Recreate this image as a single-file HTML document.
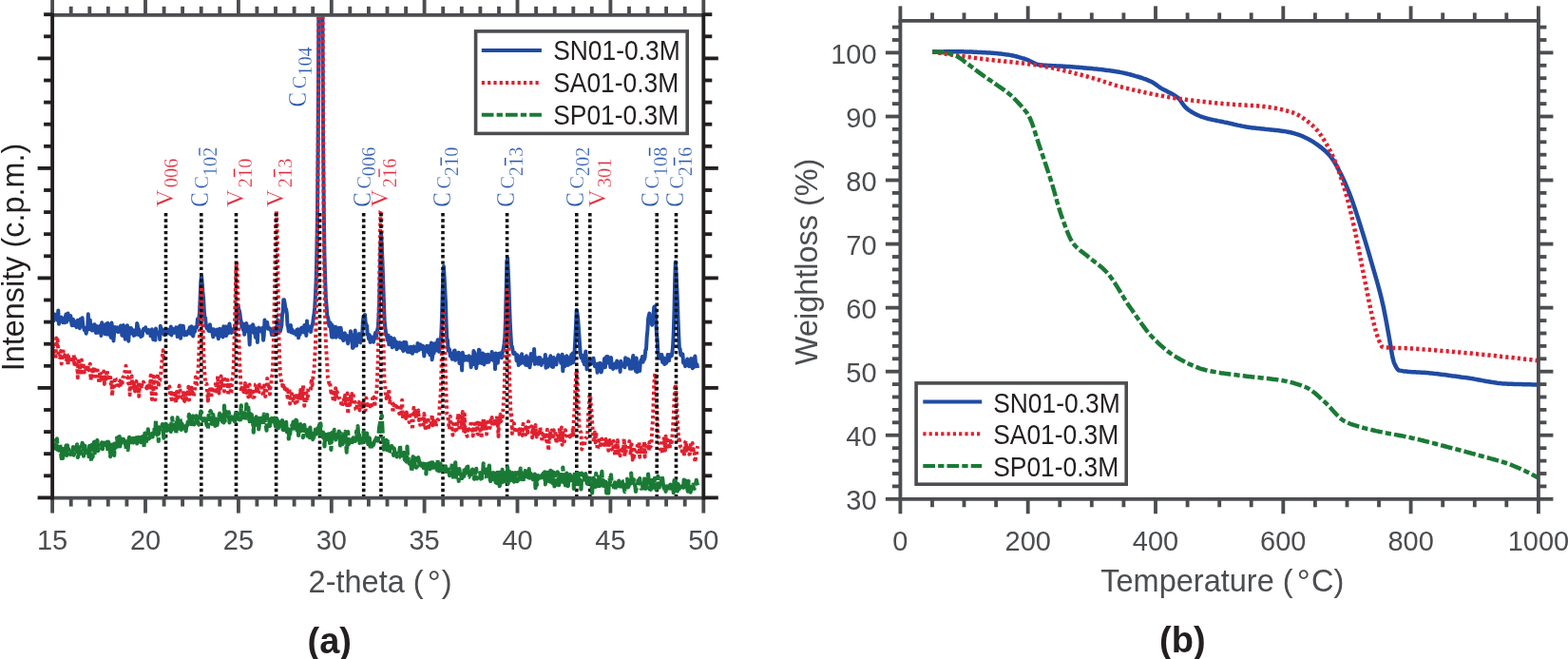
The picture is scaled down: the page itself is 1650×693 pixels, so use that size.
<!DOCTYPE html>
<html><head><meta charset="utf-8"><title>XRD and TGA</title>
<style>html,body{margin:0;padding:0;background:#fff;width:1650px;height:693px;overflow:hidden}svg{display:block}</style>
</head><body>
<svg width="1650" height="693" viewBox="0 0 1650 693">
<rect width="1650" height="693" fill="#fff"/>
<defs><clipPath id="ca"><rect x="55.1" y="17.6" width="685.2" height="507.8"/></clipPath><clipPath id="cb"><rect x="947.4" y="21.9" width="671.2" height="503"/></clipPath></defs>
<polyline points="55.1,331.9 55.8,337.6 56.5,337.3 57.2,330.4 57.8,331.6 58.5,330.9 59.2,335.6 59.9,333.3 60.6,336.9 61.3,326.5 62,340.7 62.6,334.2 63.3,337.6 64,334.5 64.7,333.7 65.4,337.4 66.1,339.1 66.7,335.1 67.4,335.6 68.1,339.2 68.8,333 69.5,330.6 70.2,338.6 70.9,334.5 71.5,329.6 72.2,334.3 72.9,335.9 73.6,333.1 74.3,332.1 75,338.5 75.7,342.2 76.3,337.8 77,335.9 77.7,340.7 78.4,342.2 79.1,338.2 79.8,341.9 80.5,344.1 81.1,339.1 81.8,336.8 82.5,341.7 83.2,341.5 83.9,345.2 84.6,335.6 85.2,338.3 85.9,337.8 86.6,334.3 87.3,342.1 88,344 88.7,346.9 89.4,347.9 90,345.8 90.7,350.8 91.4,344.5 92.1,347 92.8,330.3 93.5,346 94.2,346.1 94.8,336.6 95.5,345.5 96.2,343.2 96.9,347.6 97.6,342.7 98.3,344.6 99,341.2 99.6,341.3 100.3,347.5 101,350 101.7,347.2 102.4,343.1 103.1,349.8 103.7,347.9 104.4,344.8 105.1,348.2 105.8,342.3 106.5,353 107.2,339.3 107.9,349.4 108.5,347.8 109.2,345.6 109.9,341.9 110.6,351.2 111.3,341 112,348.5 112.7,351.6 113.3,339.8 114,345.1 114.7,341.1 115.4,347.5 116.1,352.8 116.8,354.9 117.5,339.4 118.1,344.4 118.8,349.8 119.5,358.4 120.2,348.8 120.9,344.1 121.6,348.4 122.2,347.2 122.9,346.5 123.6,344.4 124.3,349.1 125,348.8 125.7,347.2 126.4,346.8 127,342.5 127.7,345.8 128.4,352.8 129.1,347.1 129.8,342.1 130.5,353.4 131.2,350.2 131.8,356.7 132.5,348.3 133.2,346.2 133.9,342.2 134.6,353.6 135.3,358.7 136,344.9 136.6,345.6 137.3,350.8 138,345 138.7,347.3 139.4,347 140.1,349.2 140.8,352.9 141.4,348.6 142.1,352.3 142.8,346.8 143.5,349.9 144.2,339.9 144.9,342.7 145.5,351.9 146.2,346.3 146.9,351.1 147.6,350.9 148.3,354.1 149,352.1 149.7,352.9 150.3,348.3 151,346 151.7,345.8 152.4,346.8 153.1,344.2 153.8,346.6 154.5,348.5 155.1,349.9 155.8,347.5 156.5,347.1 157.2,348.6 157.9,349.8 158.6,353.3 159.3,351.3 159.9,346.3 160.6,352.4 161.3,357.1 162,352 162.7,356.4 163.4,357.6 164,345.6 164.7,350.5 165.4,350.8 166.1,351.2 166.8,351.1 167.5,349.7 168.2,357.1 168.8,342.8 169.5,348.2 170.2,345.8 170.9,349.4 171.6,347 172.3,351.4 173,352.2 173.6,350.1 174.3,350.1 175,349.2 175.7,347 176.4,348.2 177.1,346.8 177.8,350.4 178.4,348.9 179.1,351.2 179.8,343.4 180.5,352.4 181.2,345.7 181.9,345.8 182.5,348 183.2,346.5 183.9,349.9 184.6,346.4 185.3,344.4 186,345.3 186.7,354 187.3,348.9 188,344 188.7,348.7 189.4,342.4 190.1,355.8 190.8,342.5 191.5,350.5 192.1,350.7 192.8,342.7 193.5,349.7 194.2,352.4 194.9,350.3 195.6,349.4 196.3,352.1 196.9,348.9 197.6,349.5 198.3,347.6 199,350.5 199.7,344.3 200.4,350.9 201,345.7 201.7,343.4 202.4,348.7 203.1,353.5 203.8,350.4 204.5,344.6 205.2,348.5 205.8,343.9 206.5,344.4 207.2,344.2 207.9,335.4 208.6,341.4 209.3,334.9 210,328.6 210.6,313.3 211.3,296.6 212,290 212.7,297.1 213.4,306.7 214.1,313.6 214.8,326.6 215.4,333.4 216.1,334.1 216.8,342.4 217.5,344.9 218.2,343 218.9,346.3 219.5,347.9 220.2,348.1 220.9,341.2 221.6,346.1 222.3,346.4 223,346.1 223.7,351.3 224.3,354.3 225,346.2 225.7,350.6 226.4,351.6 227.1,350.8 227.8,352.2 228.5,346.6 229.1,351.1 229.8,356.2 230.5,351.4 231.2,345.8 231.9,350.7 232.6,353.3 233.3,349.8 233.9,346.1 234.6,354.4 235.3,343.3 236,350.3 236.7,348.2 237.4,343.5 238,353 238.7,349.6 239.4,343.5 240.1,350.4 240.8,346.3 241.5,340.5 242.2,345.1 242.8,348.7 243.5,349.9 244.2,347.9 244.9,347.1 245.6,348.3 246.3,345.3 247,349.4 247.6,344.7 248.3,342.8 249,338 249.7,326.3 250.4,320.8 251.1,324.7 251.8,326.4 252.4,329.2 253.1,335.4 253.8,338.4 254.5,344.1 255.2,342.7 255.9,346.9 256.5,340.7 257.2,351.8 257.9,345.3 258.6,341.4 259.3,340 260,346.4 260.7,348.5 261.3,343.5 262,349.7 262.7,362.4 263.4,343.2 264.1,349.6 264.8,347.1 265.5,349.1 266.1,341.2 266.8,343.8 267.5,350.2 268.2,348.2 268.9,354.9 269.6,345.6 270.3,349.1 270.9,359.9 271.6,345.3 272.3,344.7 273,348.1 273.7,348 274.4,346.6 275,348.6 275.7,345 276.4,348.6 277.1,357.7 277.8,352.1 278.5,336.5 279.2,345.1 279.8,340.5 280.5,342.4 281.2,339 281.9,345.8 282.6,344.4 283.3,345.8 284,345.3 284.6,345.9 285.3,348.1 286,352.1 286.7,349.4 287.4,346.1 288.1,352.4 288.8,348.2 289.4,347.2 290.1,344.4 290.8,345.1 291.5,344.7 292.2,336.5 292.9,350.3 293.5,348.2 294.2,344.9 294.9,348.4 295.6,345.2 296.3,342.9 297,330.8 297.7,327.4 298.3,315.2 299,315.3 299.7,319.3 300.4,324.2 301.1,325.2 301.8,329.3 302.5,341.9 303.1,343.7 303.8,348.5 304.5,345.8 305.2,347.7 305.9,341.9 306.6,349.5 307.3,346.5 307.9,349.7 308.6,350.3 309.3,348.3 310,350.1 310.7,348.9 311.4,351.9 312.1,350.8 312.7,346.6 313.4,346.3 314.1,355.3 314.8,347.9 315.5,352 316.2,349.4 316.8,345.5 317.5,344.6 318.2,347.8 318.9,348.2 319.6,349.5 320.3,342.1 321,344.6 321.6,342.6 322.3,352.9 323,337.5 323.7,348 324.4,344 325.1,347.3 325.8,343.5 326.4,345.9 327.1,349 327.8,343.8 328.5,342.3 329.2,339.8 329.9,333.7 330.6,329.4 331.2,323.4 331.9,311.7 332.6,295.5 333.3,267.5 334,222.5 334.7,148 335.3,33.6 336,-120.4 336.7,-274.8 337.4,-343.6 338.1,-274.9 338.8,-120.5 339.5,33.8 340.1,148.2 340.8,222.3 341.5,269.7 342.2,294.4 342.9,313.4 343.6,321.9 344.3,332 344.9,333.4 345.6,336.2 346.3,342.4 347,343.5 347.7,339.4 348.4,348.6 349.1,354.5 349.7,341.9 350.4,354.7 351.1,345.7 351.8,346.8 352.5,348.4 353.2,343.8 353.8,354.8 354.5,351.9 355.2,347.3 355.9,349.4 356.6,344.7 357.3,349.6 358,355 358.6,344.7 359.3,350.1 360,352.7 360.7,356.6 361.4,358 362.1,351.1 362.8,350.3 363.4,355.3 364.1,352.4 364.8,352.8 365.5,358.6 366.2,361.3 366.9,355.9 367.6,354.4 368.2,357.7 368.9,348.3 369.6,356 370.3,352.2 371,365.9 371.7,365.6 372.3,357.6 373,356.4 373.7,347.6 374.4,360.1 375.1,363.5 375.8,354.5 376.5,359.7 377.1,359.6 377.8,351.1 378.5,359.5 379.2,360.3 379.9,355.5 380.6,352.8 381.3,350.8 381.9,337.7 382.6,332.8 383.3,331.7 384,331 384.7,339.3 385.4,341.2 386.1,342.4 386.7,351.7 387.4,351.4 388.1,356.5 388.8,352.2 389.5,359.9 390.2,354.1 390.8,357.8 391.5,354.6 392.2,355.3 392.9,359.8 393.6,356.1 394.3,353.5 395,350 395.6,355.6 396.3,352.5 397,347.2 397.7,344.8 398.4,335.1 399.1,318.7 399.8,289.8 400.4,256.4 401.1,246.7 401.8,258.8 402.5,276.8 403.2,295.6 403.9,317.2 404.6,336.4 405.2,343.6 405.9,348.7 406.6,353.1 407.3,353.8 408,357.8 408.7,352.7 409.3,362.3 410,355.9 410.7,358.6 411.4,354.9 412.1,362.4 412.8,365.3 413.5,357.1 414.1,364.6 414.8,356.1 415.5,359.2 416.2,360.7 416.9,359.2 417.6,367.3 418.3,364 418.9,363.4 419.6,365.6 420.3,360.2 421,360.5 421.7,360.8 422.4,366.3 423.1,365.9 423.7,367 424.4,369.1 425.1,359.7 425.8,362.9 426.5,365.8 427.2,360.1 427.8,363.4 428.5,369.6 429.2,370.1 429.9,370.1 430.6,366.2 431.3,365.2 432,370.5 432.6,364.8 433.3,367.7 434,371.8 434.7,365.1 435.4,364.3 436.1,366.8 436.8,369.3 437.4,368.9 438.1,367.7 438.8,369.4 439.5,360.9 440.2,363.9 440.9,368.1 441.6,363.8 442.2,362.3 442.9,362.9 443.6,364.1 444.3,367.1 445,363.8 445.7,368.8 446.3,374.6 447,367.4 447.7,368.3 448.4,369.2 449.1,363.7 449.8,367.1 450.5,364.3 451.1,371.1 451.8,363.7 452.5,373.2 453.2,370.4 453.9,360.5 454.6,378.2 455.3,373.8 455.9,365 456.6,371.4 457.3,361.2 458,368.4 458.7,361.4 459.4,368.5 460.1,360.4 460.7,357.2 461.4,365.8 462.1,369.9 462.8,359.9 463.5,360.6 464.2,353.3 464.8,339.5 465.5,316.2 466.2,290.6 466.9,280.1 467.6,291.6 468.3,305.1 469,318.2 469.6,340 470.3,355.9 471,357.8 471.7,368.7 472.4,366.7 473.1,367.8 473.8,374.5 474.4,371.5 475.1,372.8 475.8,377.7 476.5,377.6 477.2,376.7 477.9,368.8 478.6,368.5 479.2,378.8 479.9,371.4 480.6,375.6 481.3,371.2 482,374.7 482.7,370.7 483.4,382 484,371.9 484.7,375.5 485.4,375.4 486.1,389.4 486.8,370.8 487.5,376.3 488.1,375.7 488.8,378.7 489.5,378.5 490.2,374.9 490.9,377.7 491.6,375.4 492.3,378.8 492.9,376.6 493.6,374.4 494.3,377 495,378.6 495.7,386.2 496.4,375.3 497.1,378.5 497.7,383.1 498.4,369.1 499.1,370.4 499.8,372.7 500.5,377 501.2,387.2 501.9,379 502.5,382.3 503.2,376.6 503.9,367.7 504.6,368.4 505.3,381.6 506,378.3 506.6,372.4 507.3,382 508,371.5 508.7,382.1 509.4,383.3 510.1,374.6 510.8,373.2 511.4,380.9 512.1,373.3 512.8,380.9 513.5,372.8 514.2,380.7 514.9,377.8 515.6,375.7 516.2,373.9 516.9,378.2 517.6,370 518.3,376.1 519,375.6 519.7,379.5 520.4,372.1 521,388.1 521.7,371.4 522.4,372.1 523.1,381 523.8,381.7 524.5,374.7 525.1,371.8 525.8,374.4 526.5,371.4 527.2,371.8 527.9,376.3 528.6,371.3 529.3,368.6 529.9,366.4 530.6,361.3 531.3,354.8 532,335.7 532.7,303.8 533.4,274.3 534.1,271.5 534.7,284.3 535.4,299.9 536.1,320.7 536.8,339.5 537.5,352.8 538.2,364.3 538.9,364.4 539.5,367.8 540.2,371.9 540.9,371.9 541.6,370.9 542.3,372.4 543,372.8 543.6,379.4 544.3,373.3 545,374.2 545.7,384 546.4,380.8 547.1,382.6 547.8,382.2 548.4,376.8 549.1,372.2 549.8,379.5 550.5,380.5 551.2,381.7 551.9,378.4 552.6,375.9 553.2,383.8 553.9,374.3 554.6,384.1 555.3,379.3 556,376.5 556.7,377.5 557.4,386.3 558,382.8 558.7,371.9 559.4,379.4 560.1,378.6 560.8,378.5 561.5,377.3 562.1,366.9 562.8,382.9 563.5,375.8 564.2,378.1 564.9,377.2 565.6,376.8 566.3,382.7 566.9,376 567.6,377.2 568.3,376.1 569,378.1 569.7,383.9 570.4,380.6 571.1,381.1 571.7,378.9 572.4,379.2 573.1,381.1 573.8,372.9 574.5,386.8 575.2,377.2 575.9,378.1 576.5,385.8 577.2,381.4 577.9,380.7 578.6,378.2 579.3,374.3 580,381.3 580.6,385.4 581.3,377 582,386.1 582.7,376.1 583.4,377.7 584.1,382.6 584.8,380.6 585.4,383.4 586.1,377.7 586.8,376.5 587.5,373.2 588.2,375.8 588.9,376.3 589.6,374.9 590.2,381.8 590.9,377.9 591.6,372.7 592.3,390.2 593,377.1 593.7,375.4 594.4,385.1 595,384.7 595.7,375.7 596.4,374.3 597.1,380.5 597.8,383.9 598.5,378.3 599.1,376.2 599.8,378.7 600.5,382.6 601.2,373 601.9,375.7 602.6,371.6 603.3,381.3 603.9,377.6 604.6,370.1 605.3,357.1 606,342 606.7,326.1 607.4,328.9 608.1,334.4 608.7,342.1 609.4,352.4 610.1,362.9 610.8,372.1 611.5,376.1 612.2,376.6 612.9,373.8 613.5,380.1 614.2,378 614.9,383.2 615.6,376 616.3,369.4 617,378.1 617.6,388.3 618.3,382.1 619,379.7 619.7,384 620.4,382.7 621.1,382.6 621.8,378.9 622.4,381.3 623.1,381.9 623.8,378.6 624.5,376.7 625.2,381.8 625.9,385.1 626.6,383.9 627.2,383.3 627.9,383.4 628.6,391.8 629.3,382.5 630,385.7 630.7,389.4 631.4,381.8 632,382.7 632.7,391.4 633.4,388.4 634.1,382.9 634.8,383.2 635.5,382.1 636.1,376.9 636.8,386.3 637.5,380.8 638.2,374.9 638.9,381.3 639.6,374.9 640.3,377.9 640.9,382 641.6,378.3 642.3,386.3 643,376.1 643.7,383.1 644.4,384.3 645.1,388 645.7,385.8 646.4,383.1 647.1,382.5 647.8,381.9 648.5,386.8 649.2,379.6 649.9,384.3 650.5,381.9 651.2,383.2 651.9,381.2 652.6,390.9 653.3,379.7 654,383.3 654.7,383.4 655.3,384.8 656,384.1 656.7,384 657.4,386.3 658.1,376.3 658.8,382.4 659.4,377.4 660.1,383.3 660.8,377.6 661.5,378.5 662.2,382.1 662.9,387.8 663.6,384.5 664.2,383.4 664.9,387.7 665.6,378.4 666.3,373.9 667,380.4 667.7,380.9 668.4,386.7 669,390.1 669.7,376.6 670.4,391.2 671.1,387.5 671.8,390.4 672.5,382.6 673.2,390.1 673.8,381.1 674.5,378.8 675.2,380.7 675.9,374.9 676.6,380.8 677.3,378 677.9,378.1 678.6,375.7 679.3,368 680,367.4 680.7,354.3 681.4,347.6 682.1,335.3 682.7,332 683.4,329.6 684.1,333.6 684.8,337.7 685.5,339.9 686.2,341.8 686.9,337.1 687.5,331.4 688.2,323.2 688.9,322.3 689.6,329.1 690.3,339 691,350.7 691.7,357.7 692.3,368.7 693,374.2 693.7,376.6 694.4,372.9 695.1,377 695.8,376.6 696.4,372.9 697.1,380.9 697.8,378.4 698.5,376.5 699.2,383.1 699.9,380.8 700.6,381 701.2,381.9 701.9,380 702.6,373.1 703.3,375.5 704,379.3 704.7,373 705.4,374.3 706,373.7 706.7,374.3 707.4,370.6 708.1,364 708.8,349.7 709.5,325.8 710.2,293.4 710.8,275.6 711.5,285.8 712.2,300.8 712.9,315.8 713.6,338 714.3,354.1 714.9,366.5 715.6,366.8 716.3,373.4 717,372.8 717.7,374.2 718.4,372.3 719.1,381.5 719.7,379.6 720.4,381.6 721.1,385.2 721.8,381.4 722.5,384.1 723.2,377.6 723.9,383.6 724.5,381.6 725.2,385.3 725.9,384.3 726.6,378.6 727.3,377 728,380.3 728.7,387.3 729.3,386.2 730,386.3 730.7,377 731.4,374.5 732.1,382.7 732.8,384 733.4,383.1 734.1,387" fill="none" stroke="#1f4ba3" stroke-width="4" stroke-linejoin="round" clip-path="url(#ca)"/>
<polyline points="55.1,366.5 55.8,364.8 56.5,373.4 57.2,368.9 57.8,369.4 58.5,377.7 59.2,355.5 59.9,364.9 60.6,357.3 61.3,371.4 62,374.1 62.6,375.6 63.3,374.2 64,369 64.7,382.5 65.4,375.8 66.1,373.4 66.7,369.5 67.4,377.7 68.1,373.5 68.8,374.2 69.5,377.9 70.2,378.3 70.9,373.5 71.5,384.3 72.2,373.4 72.9,373.2 73.6,380.7 74.3,380.2 75,380.2 75.7,378.2 76.3,380.8 77,378.2 77.7,373.1 78.4,385.3 79.1,377 79.8,381.2 80.5,386.3 81.1,383.2 81.8,397.1 82.5,376.8 83.2,380.4 83.9,384.9 84.6,391.6 85.2,383.9 85.9,378.4 86.6,391.6 87.3,381.7 88,385.7 88.7,391.5 89.4,384.1 90,385.6 90.7,390.7 91.4,387.6 92.1,390.4 92.8,384.7 93.5,389.2 94.2,384.7 94.8,382.7 95.5,399.6 96.2,393.5 96.9,396.1 97.6,387.1 98.3,392.1 99,385.8 99.6,385.7 100.3,395.8 101,389.8 101.7,392.6 102.4,386.3 103.1,399.1 103.7,398.1 104.4,403.2 105.1,390.3 105.8,392.4 106.5,401.4 107.2,394.1 107.9,397 108.5,396.6 109.2,390.5 109.9,403.9 110.6,394.8 111.3,397.9 112,396.5 112.7,389.1 113.3,399 114,400.2 114.7,398.1 115.4,393.9 116.1,396.3 116.8,404 117.5,399.8 118.1,416.2 118.8,403.5 119.5,403.3 120.2,406.6 120.9,396.7 121.6,397.7 122.2,403 122.9,403.3 123.6,408.4 124.3,406.8 125,402.2 125.7,402.6 126.4,400.3 127,404.7 127.7,399.3 128.4,405.1 129.1,397.6 129.8,396.3 130.5,395.8 131.2,391 131.8,390.8 132.5,384.7 133.2,395.8 133.9,396.1 134.6,400.7 135.3,403.5 136,388 136.6,415.2 137.3,404.7 138,405.1 138.7,395.6 139.4,407.7 140.1,406.8 140.8,403.1 141.4,406.3 142.1,411.5 142.8,403.6 143.5,400.9 144.2,412 144.9,406.7 145.5,404.6 146.2,416.8 146.9,406.2 147.6,404.5 148.3,406.6 149,403.2 149.7,406.1 150.3,405.7 151,401.6 151.7,403.4 152.4,406.1 153.1,406.4 153.8,407.3 154.5,408.3 155.1,405.6 155.8,406.9 156.5,402.5 157.2,403.1 157.9,409.5 158.6,394.7 159.3,406.2 159.9,420 160.6,395.4 161.3,411.8 162,395.9 162.7,406.3 163.4,420.3 164,411.6 164.7,400 165.4,398.1 166.1,392.9 166.8,406.9 167.5,400.8 168.2,400.2 168.8,396.7 169.5,390.3 170.2,382.4 170.9,374.5 171.6,368.3 172.3,377.9 173,375.7 173.6,394.9 174.3,396.7 175,403.3 175.7,405 176.4,407.4 177.1,410.2 177.8,409.8 178.4,406.5 179.1,416.5 179.8,410.2 180.5,420.1 181.2,413.3 181.9,411.1 182.5,417.2 183.2,419.8 183.9,411.3 184.6,414.8 185.3,423.5 186,411.9 186.7,412.9 187.3,418.1 188,411.5 188.7,405.5 189.4,409.5 190.1,419.5 190.8,420.8 191.5,420.3 192.1,419.1 192.8,410.9 193.5,420 194.2,421.9 194.9,412.5 195.6,420.1 196.3,413.3 196.9,415.6 197.6,416.1 198.3,406.7 199,420.6 199.7,409.1 200.4,412.4 201,410.2 201.7,407.6 202.4,413.9 203.1,411.6 203.8,417.6 204.5,411.8 205.2,408.1 205.8,396.5 206.5,406.6 207.2,404.1 207.9,397.1 208.6,387.8 209.3,374.5 210,351.4 210.6,326.3 211.3,306.2 212,300.8 212.7,315.5 213.4,337.5 214.1,365.3 214.8,384.2 215.4,393.6 216.1,401.6 216.8,404 217.5,403.7 218.2,413 218.9,421.5 219.5,411.6 220.2,412.9 220.9,408.8 221.6,406.5 222.3,418.5 223,406.4 223.7,410 224.3,407.5 225,410.8 225.7,407.7 226.4,410.6 227.1,401.6 227.8,407 228.5,413.9 229.1,395.4 229.8,403.8 230.5,413.4 231.2,408.6 231.9,411.6 232.6,395.6 233.3,406.9 233.9,400 234.6,399.4 235.3,407.9 236,411.5 236.7,398.7 237.4,400.6 238,403 238.7,405.1 239.4,399.5 240.1,415.9 240.8,408 241.5,403.6 242.2,402.6 242.8,414.3 243.5,412.5 244.2,399.3 244.9,397.6 245.6,390.1 246.3,367 247,342.4 247.6,313.5 248.3,285.1 249,275.1 249.7,285.8 250.4,313.5 251.1,346.7 251.8,370.5 252.4,386.3 253.1,397.6 253.8,411.6 254.5,408 255.2,406.3 255.9,410.3 256.5,412.3 257.2,411.4 257.9,403 258.6,413 259.3,410.9 260,416.1 260.7,406 261.3,417.5 262,410.2 262.7,404.5 263.4,419 264.1,410.2 264.8,414.4 265.5,411.8 266.1,417.7 266.8,417.7 267.5,417.6 268.2,415.6 268.9,404.2 269.6,403.8 270.3,412.8 270.9,407.1 271.6,413.8 272.3,412.3 273,404.6 273.7,406.3 274.4,405.7 275,406.7 275.7,409.8 276.4,413.8 277.1,416.7 277.8,405.6 278.5,407.3 279.2,416.9 279.8,413.5 280.5,410.1 281.2,398.1 281.9,403.7 282.6,408.4 283.3,404.5 284,414.6 284.6,405.5 285.3,404.5 286,396.1 286.7,393.9 287.4,377.5 288.1,350.8 288.8,317.1 289.4,273.8 290.1,236.1 290.8,221.6 291.5,235.7 292.2,274.5 292.9,318.3 293.5,355.5 294.2,378.3 294.9,393.4 295.6,396.3 296.3,403.9 297,405.5 297.7,402.3 298.3,408 299,405.9 299.7,409.1 300.4,409.3 301.1,411.4 301.8,406.6 302.5,417.7 303.1,416.7 303.8,409.1 304.5,409.2 305.2,424.6 305.9,417.2 306.6,417.9 307.3,414.2 307.9,416.3 308.6,421.3 309.3,420.7 310,414.1 310.7,423.8 311.4,419.3 312.1,413.4 312.7,422.4 313.4,416.9 314.1,421.3 314.8,415 315.5,419.1 316.2,409.9 316.8,418.9 317.5,410.2 318.2,417.6 318.9,405.3 319.6,416.1 320.3,426.8 321,417.9 321.6,420.5 322.3,410.5 323,421 323.7,420.4 324.4,408.4 325.1,409.2 325.8,409.1 326.4,409.8 327.1,408.9 327.8,398.1 328.5,405.2 329.2,399 329.9,392.1 330.6,389.7 331.2,376.8 331.9,364.1 332.6,339.8 333.3,302.5 334,245.6 334.7,153.6 335.3,15.1 336,-166.9 336.7,-344.3 337.4,-422.1 338.1,-344.2 338.8,-166.2 339.5,15 340.1,153.3 340.8,245.2 341.5,302.1 342.2,339.1 342.9,361.4 343.6,373.1 344.3,383.8 344.9,396.6 345.6,398.5 346.3,403.1 347,401.4 347.7,406.3 348.4,412.8 349.1,411.7 349.7,410.4 350.4,419.3 351.1,413.7 351.8,413.1 352.5,419.9 353.2,408.2 353.8,418.5 354.5,411.7 355.2,413.5 355.9,414.4 356.6,418.5 357.3,418.8 358,420.1 358.6,420.1 359.3,425.9 360,427.6 360.7,423.4 361.4,424 362.1,419 362.8,415.9 363.4,424.2 364.1,421.8 364.8,426 365.5,413.6 366.2,435.3 366.9,416.7 367.6,423.2 368.2,428 368.9,416.8 369.6,421 370.3,414.1 371,417 371.7,414.7 372.3,424.7 373,425.7 373.7,422.9 374.4,430.6 375.1,431.3 375.8,424.7 376.5,423.8 377.1,423.6 377.8,422.8 378.5,431.4 379.2,426.3 379.9,423.6 380.6,424.2 381.3,427.9 381.9,423.4 382.6,426.9 383.3,425.2 384,431.8 384.7,430.9 385.4,418.6 386.1,424.5 386.7,428.6 387.4,423 388.1,428.8 388.8,426.4 389.5,427.4 390.2,424.2 390.8,425.6 391.5,426.1 392.2,416.8 392.9,418.7 393.6,417.6 394.3,427.8 395,420.5 395.6,418.1 396.3,412 397,399.4 397.7,378.9 398.4,349.5 399.1,301 399.8,255.1 400.4,222.4 401.1,221.3 401.8,251.3 402.5,297.9 403.2,343.4 403.9,379.9 404.6,403.7 405.2,405.1 405.9,414.8 406.6,419.1 407.3,413.9 408,415.8 408.7,417.1 409.3,408.9 410,422.9 410.7,420.2 411.4,420.6 412.1,422.1 412.8,423.6 413.5,434.1 414.1,425 414.8,429 415.5,423.5 416.2,428.6 416.9,426.3 417.6,428 418.3,425.2 418.9,426.3 419.6,433.1 420.3,435 421,434 421.7,429 422.4,434.2 423.1,420.7 423.7,438.1 424.4,433.7 425.1,435.6 425.8,440.3 426.5,432.9 427.2,440 427.8,433.5 428.5,438.6 429.2,434.3 429.9,438.1 430.6,444 431.3,434 432,434.5 432.6,436.2 433.3,439.5 434,451.8 434.7,440.2 435.4,428.8 436.1,435.9 436.8,431.6 437.4,436.9 438.1,440 438.8,435.5 439.5,437.1 440.2,431.5 440.9,441.9 441.6,437.6 442.2,446.8 442.9,438.5 443.6,437.8 444.3,440.5 445,442.9 445.7,446.6 446.3,435 447,443 447.7,452.7 448.4,443.4 449.1,445.2 449.8,444.3 450.5,438.7 451.1,449.2 451.8,446 452.5,445.6 453.2,448.4 453.9,448.7 454.6,435.9 455.3,447.2 455.9,442 456.6,445.4 457.3,441.2 458,440.3 458.7,448.4 459.4,443.7 460.1,441.9 460.7,441.2 461.4,441.3 462.1,438 462.8,424.4 463.5,417.8 464.2,399.7 464.8,374.2 465.5,346.3 466.2,324.8 466.9,326.1 467.6,342.4 468.3,370.8 469,396.7 469.6,417 470.3,435.6 471,437.1 471.7,440.8 472.4,447.8 473.1,451.4 473.8,437.7 474.4,444 475.1,445.2 475.8,454.1 476.5,457.5 477.2,446 477.9,448.3 478.6,451 479.2,452.6 479.9,445.8 480.6,451.8 481.3,444.5 482,435.2 482.7,441.7 483.4,449.7 484,452.7 484.7,438.1 485.4,440.5 486.1,449.3 486.8,433.1 487.5,444 488.1,455 488.8,435.4 489.5,453.9 490.2,449.2 490.9,457.1 491.6,458.8 492.3,448.9 492.9,450.6 493.6,454.6 494.3,450.8 495,449.9 495.7,442.5 496.4,451.9 497.1,449.5 497.7,458.3 498.4,449 499.1,448.4 499.8,445.6 500.5,452.1 501.2,447.3 501.9,444.7 502.5,455.9 503.2,456.6 503.9,445.4 504.6,442.4 505.3,452.8 506,442.9 506.6,460.8 507.3,445.9 508,451.1 508.7,439.6 509.4,445.6 510.1,450.8 510.8,447.3 511.4,442.2 512.1,456.6 512.8,447.9 513.5,442.9 514.2,440.8 514.9,442.2 515.6,450 516.2,439.4 516.9,443.2 517.6,439 518.3,449 519,442.1 519.7,447 520.4,445.5 521,439.9 521.7,446 522.4,447.1 523.1,437.2 523.8,445.8 524.5,458.9 525.1,440.8 525.8,444.9 526.5,435.7 527.2,443.1 527.9,437.7 528.6,441.4 529.3,434.3 529.9,422.9 530.6,413.2 531.3,386 532,353.5 532.7,323.6 533.4,304.9 534.1,310.1 534.7,334.2 535.4,367 536.1,399.2 536.8,417.2 537.5,436.6 538.2,433.3 538.9,456 539.5,447.1 540.2,446.4 540.9,445.3 541.6,451.8 542.3,449.2 543,449.6 543.6,455.7 544.3,449.1 545,450.2 545.7,453.5 546.4,456.6 547.1,450.7 547.8,452 548.4,451.3 549.1,454.5 549.8,457.9 550.5,445.7 551.2,449.4 551.9,449.6 552.6,452.5 553.2,456.9 553.9,449.3 554.6,450.3 555.3,454.9 556,443.2 556.7,445.8 557.4,447.6 558,450.1 558.7,451.7 559.4,448.4 560.1,460.2 560.8,448.4 561.5,451.5 562.1,458.5 562.8,457.5 563.5,447 564.2,456.7 564.9,459.4 565.6,455.8 566.3,459.6 566.9,452.3 567.6,457.7 568.3,449.5 569,453.6 569.7,452.6 570.4,464.8 571.1,456.4 571.7,460.5 572.4,461.3 573.1,458.3 573.8,458.2 574.5,455.5 575.2,464.2 575.9,451.8 576.5,463.4 577.2,473.8 577.9,456.5 578.6,460.9 579.3,453.1 580,460.9 580.6,452.5 581.3,456.5 582,459 582.7,452.3 583.4,455.1 584.1,453.8 584.8,460.4 585.4,466.1 586.1,459.9 586.8,456 587.5,457.8 588.2,462.5 588.9,449.8 589.6,464.8 590.2,455.9 590.9,449.6 591.6,467.7 592.3,453.6 593,460.6 593.7,467.4 594.4,453.4 595,452.3 595.7,455.8 596.4,455.9 597.1,460.4 597.8,458.4 598.5,458.4 599.1,458.3 599.8,459.4 600.5,455.9 601.2,460.8 601.9,458.3 602.6,451.9 603.3,457.6 603.9,438.8 604.6,430.4 605.3,410.6 606,396.7 606.7,389.2 607.4,394 608.1,411.8 608.7,423 609.4,447.6 610.1,452.3 610.8,454.2 611.5,454.8 612.2,472.5 612.9,470.4 613.5,463.2 614.2,467 614.9,469.5 615.6,463.7 616.3,460.5 617,460.4 617.6,459.9 618.3,455 619,437 619.7,430.2 620.4,416.2 621.1,414.8 621.8,425.1 622.4,431.8 623.1,443.4 623.8,452.5 624.5,462.3 625.2,461.5 625.9,454.5 626.6,465.4 627.2,454.7 627.9,462.1 628.6,472.9 629.3,470.4 630,463.1 630.7,465.1 631.4,466.1 632,470.7 632.7,462 633.4,461.6 634.1,463 634.8,467 635.5,467.7 636.1,464.6 636.8,470.6 637.5,461.8 638.2,466.7 638.9,463.8 639.6,462.4 640.3,473.8 640.9,466.2 641.6,463 642.3,468.4 643,463.4 643.7,471.6 644.4,473.1 645.1,474.2 645.7,463.8 646.4,468.6 647.1,478.9 647.8,468.6 648.5,476.2 649.2,477.7 649.9,463.1 650.5,476.4 651.2,474.2 651.9,474.9 652.6,479.2 653.3,473.1 654,471.3 654.7,474.1 655.3,469.4 656,473.8 656.7,461.2 657.4,480.3 658.1,469 658.8,474.6 659.4,473.5 660.1,472.6 660.8,472.8 661.5,472.6 662.2,464.1 662.9,469.8 663.6,478.6 664.2,467.5 664.9,467.4 665.6,483.5 666.3,479 667,480.8 667.7,472.9 668.4,474.3 669,476.8 669.7,475.8 670.4,472.5 671.1,465.6 671.8,469.2 672.5,465.3 673.2,480.7 673.8,470.7 674.5,471.7 675.2,474 675.9,472.5 676.6,475 677.3,469.1 677.9,464.6 678.6,480.5 679.3,468.3 680,469.2 680.7,467.5 681.4,468.4 682.1,470.8 682.7,473.8 683.4,464.9 684.1,470 684.8,469.5 685.5,467.3 686.2,451.5 686.9,443 687.5,427.1 688.2,406 688.9,395.6 689.6,392.6 690.3,404.4 691,422.5 691.7,440.5 692.3,453.9 693,459.7 693.7,464.5 694.4,469.3 695.1,474.1 695.8,472.5 696.4,472.5 697.1,476.6 697.8,462.1 698.5,462.7 699.2,458.7 699.9,473.6 700.6,458.7 701.2,469.3 701.9,473.1 702.6,462.8 703.3,466.1 704,467.8 704.7,472 705.4,461.2 706,468.1 706.7,466.7 707.4,458.9 708.1,449.3 708.8,437.9 709.5,420.3 710.2,407.7 710.8,404 711.5,412.8 712.2,425.5 712.9,442.7 713.6,453.6 714.3,465.2 714.9,462.2 715.6,467.8 716.3,470.1 717,471 717.7,474.7 718.4,471.5 719.1,474.1 719.7,479.4 720.4,474.2 721.1,465.1 721.8,463.4 722.5,473.8 723.2,468.8 723.9,472.3 724.5,470.2 725.2,477.7 725.9,477.4 726.6,466.2 727.3,473.3 728,470.8 728.7,466 729.3,476 730,472.4 730.7,475.6 731.4,486 732.1,480.6 732.8,479.8 733.4,472.6 734.1,469.1" fill="none" stroke="#e0202f" stroke-width="4" stroke-dasharray="3.2 3.1" stroke-linejoin="round" clip-path="url(#ca)"/>
<line x1="174.5" y1="224" x2="174.5" y2="523.6" stroke="#111" stroke-width="3.6" stroke-dasharray="3.4 2.9"/>
<line x1="211.8" y1="224" x2="211.8" y2="523.6" stroke="#111" stroke-width="3.6" stroke-dasharray="3.4 2.9"/>
<line x1="248.5" y1="224" x2="248.5" y2="523.6" stroke="#111" stroke-width="3.6" stroke-dasharray="3.4 2.9"/>
<line x1="290.6" y1="224" x2="290.6" y2="523.6" stroke="#111" stroke-width="3.6" stroke-dasharray="3.4 2.9"/>
<line x1="336.5" y1="224" x2="336.5" y2="523.6" stroke="#111" stroke-width="3.6" stroke-dasharray="3.4 2.9"/>
<line x1="382.7" y1="224" x2="382.7" y2="523.6" stroke="#111" stroke-width="3.6" stroke-dasharray="3.4 2.9"/>
<line x1="400.9" y1="224" x2="400.9" y2="523.6" stroke="#111" stroke-width="3.6" stroke-dasharray="3.4 2.9"/>
<line x1="466" y1="224" x2="466" y2="523.6" stroke="#111" stroke-width="3.6" stroke-dasharray="3.4 2.9"/>
<line x1="533.6" y1="224" x2="533.6" y2="523.6" stroke="#111" stroke-width="3.6" stroke-dasharray="3.4 2.9"/>
<line x1="606.8" y1="224" x2="606.8" y2="523.6" stroke="#111" stroke-width="3.6" stroke-dasharray="3.4 2.9"/>
<line x1="620.8" y1="224" x2="620.8" y2="523.6" stroke="#111" stroke-width="3.6" stroke-dasharray="3.4 2.9"/>
<line x1="691.2" y1="224" x2="691.2" y2="523.6" stroke="#111" stroke-width="3.6" stroke-dasharray="3.4 2.9"/>
<line x1="711.5" y1="224" x2="711.5" y2="523.6" stroke="#111" stroke-width="3.6" stroke-dasharray="3.4 2.9"/>
<polyline points="55.1,474.1 55.8,462.6 56.5,470.4 57.2,465.3 57.8,471.1 58.5,471.4 59.2,472 59.9,461.4 60.6,472.8 61.3,470.8 62,473.6 62.6,472 63.3,467.2 64,475.6 64.7,482 65.4,471.2 66.1,481.8 66.7,473.8 67.4,471.1 68.1,468.9 68.8,478.6 69.5,468.6 70.2,478.9 70.9,468.4 71.5,472.6 72.2,472.2 72.9,477.1 73.6,475.7 74.3,478.1 75,475 75.7,472.9 76.3,477.3 77,470 77.7,478.6 78.4,475.2 79.1,470.3 79.8,470.7 80.5,473.6 81.1,467.3 81.8,480.9 82.5,479.1 83.2,470.4 83.9,474.5 84.6,474.8 85.2,476.7 85.9,470.7 86.6,465.8 87.3,467.9 88,479.7 88.7,475.9 89.4,468.8 90,477.2 90.7,479.1 91.4,470.9 92.1,471.3 92.8,471.3 93.5,480.1 94.2,468.8 94.8,479.3 95.5,478 96.2,485.3 96.9,467.7 97.6,480.4 98.3,468.2 99,464.9 99.6,478.8 100.3,464.7 101,473.7 101.7,465.8 102.4,463 103.1,474.1 103.7,472.1 104.4,469.9 105.1,470.9 105.8,469.6 106.5,468.8 107.2,465.3 107.9,472.2 108.5,469.7 109.2,468.5 109.9,467 110.6,468.1 111.3,462.7 112,467.7 112.7,464.8 113.3,474.3 114,464.6 114.7,466.6 115.4,468.5 116.1,480.2 116.8,470.1 117.5,468 118.1,477 118.8,467.5 119.5,468.7 120.2,478.8 120.9,463.2 121.6,470.9 122.2,468.5 122.9,460.7 123.6,463.5 124.3,469.5 125,459.5 125.7,459.2 126.4,469.3 127,464.1 127.7,466.1 128.4,461.9 129.1,461.9 129.8,461.8 130.5,462.8 131.2,466.9 131.8,464.3 132.5,472.3 133.2,466.1 133.9,464.8 134.6,473.1 135.3,462.9 136,459.9 136.6,463.8 137.3,458.4 138,465.2 138.7,468.7 139.4,465.5 140.1,460.9 140.8,461.9 141.4,464.4 142.1,467.3 142.8,460.4 143.5,460.2 144.2,466.4 144.9,462.6 145.5,462.9 146.2,463.3 146.9,457.8 147.6,460.2 148.3,465.1 149,459.7 149.7,459.3 150.3,461.1 151,461.3 151.7,470.2 152.4,455.6 153.1,459.4 153.8,467.1 154.5,458.3 155.1,459.5 155.8,451.4 156.5,461.5 157.2,460.8 157.9,460.3 158.6,455.8 159.3,457.9 159.9,455.8 160.6,459.4 161.3,455.5 162,458.7 162.7,449.4 163.4,453.5 164,442.5 164.7,453.8 165.4,457.5 166.1,452.9 166.8,463.8 167.5,449.3 168.2,451.9 168.8,449.2 169.5,450.7 170.2,450.6 170.9,446.1 171.6,448 172.3,460.6 173,450.5 173.6,455.3 174.3,445.7 175,450.3 175.7,452.8 176.4,449.4 177.1,447.7 177.8,448.7 178.4,449.3 179.1,452.5 179.8,453.8 180.5,442.7 181.2,439.3 181.9,447 182.5,447.6 183.2,450.5 183.9,451.8 184.6,444.2 185.3,455.8 186,439.8 186.7,439.2 187.3,450.8 188,447.8 188.7,447.7 189.4,439.6 190.1,445.1 190.8,451.9 191.5,445.6 192.1,449.1 192.8,451.5 193.5,452.6 194.2,451.4 194.9,445.3 195.6,453.3 196.3,447 196.9,449.4 197.6,444.7 198.3,439.7 199,435.9 199.7,446.3 200.4,442.5 201,445.3 201.7,449 202.4,438.5 203.1,437.4 203.8,445.9 204.5,446.2 205.2,443.3 205.8,442.1 206.5,437.3 207.2,443.5 207.9,440.4 208.6,445.1 209.3,446.6 210,438.2 210.6,438.3 211.3,432.5 212,433.5 212.7,440.7 213.4,441.4 214.1,444 214.8,445.1 215.4,440.1 216.1,441.9 216.8,443.3 217.5,447 218.2,447.2 218.9,451.3 219.5,436.8 220.2,441.1 220.9,433.8 221.6,432.1 222.3,433.9 223,445.8 223.7,444 224.3,436 225,442 225.7,443.6 226.4,447.8 227.1,443.8 227.8,440.7 228.5,447 229.1,442.7 229.8,441.3 230.5,437.9 231.2,434.7 231.9,444.4 232.6,436.7 233.3,438.6 233.9,443.1 234.6,439.4 235.3,444.4 236,426.5 236.7,442.8 237.4,433.8 238,433 238.7,434.9 239.4,439.8 240.1,436.4 240.8,433.4 241.5,444.4 242.2,435.1 242.8,438.7 243.5,440.2 244.2,437.1 244.9,440.6 245.6,441.7 246.3,438.6 247,443.5 247.6,436.5 248.3,434.5 249,439.9 249.7,434.9 250.4,440.6 251.1,438.6 251.8,437 252.4,441.5 253.1,441.3 253.8,426.4 254.5,437.7 255.2,439.7 255.9,441.3 256.5,436.9 257.2,434.3 257.9,439.8 258.6,442.3 259.3,425 260,433 260.7,437 261.3,428.5 262,437.1 262.7,443.2 263.4,435.2 264.1,440.4 264.8,436.1 265.5,441.8 266.1,442.8 266.8,454.6 267.5,440.5 268.2,444.8 268.9,442.1 269.6,438.4 270.3,446.8 270.9,445.8 271.6,441.5 272.3,451.3 273,444.7 273.7,437.6 274.4,442.5 275,439.1 275.7,441 276.4,444 277.1,442.9 277.8,435.5 278.5,444 279.2,444.2 279.8,446.5 280.5,452.6 281.2,436.2 281.9,438.4 282.6,439.4 283.3,441.5 284,447.9 284.6,442.9 285.3,442.1 286,440 286.7,442.3 287.4,443.4 288.1,445 288.8,439.5 289.4,445.5 290.1,448.4 290.8,447.7 291.5,441 292.2,450.1 292.9,450.2 293.5,448.2 294.2,441.8 294.9,441 295.6,447.6 296.3,443.2 297,442.1 297.7,451.8 298.3,452.1 299,451.1 299.7,454.1 300.4,452.6 301.1,443.9 301.8,454 302.5,449.7 303.1,451.3 303.8,461.5 304.5,451.6 305.2,456.6 305.9,450.3 306.6,448.6 307.3,447.3 307.9,449.9 308.6,443.5 309.3,450.6 310,450.5 310.7,448.8 311.4,441.7 312.1,442.2 312.7,454.6 313.4,447.6 314.1,457.8 314.8,448.9 315.5,453.7 316.2,446.1 316.8,449.7 317.5,451.6 318.2,455.2 318.9,460.1 319.6,457.1 320.3,446.9 321,453.2 321.6,452.6 322.3,450.7 323,456.1 323.7,460.5 324.4,451.9 325.1,458.8 325.8,460.1 326.4,449.7 327.1,462 327.8,461.8 328.5,455.9 329.2,462.1 329.9,456 330.6,460 331.2,458 331.9,451.6 332.6,456.5 333.3,454.7 334,453.3 334.7,450 335.3,450.6 336,447.4 336.7,457.4 337.4,445.4 338.1,455.7 338.8,453.7 339.5,451.3 340.1,460.1 340.8,453.7 341.5,469.3 342.2,456.7 342.9,459.1 343.6,457.2 344.3,460.7 344.9,462.1 345.6,456.3 346.3,458.3 347,466 347.7,456.1 348.4,472.8 349.1,457.1 349.7,456.5 350.4,451.8 351.1,455.5 351.8,451.8 352.5,456.9 353.2,462.4 353.8,459.3 354.5,457 355.2,455.3 355.9,456.9 356.6,453.6 357.3,454.5 358,468.5 358.6,461.2 359.3,456.3 360,463.2 360.7,466.9 361.4,457.8 362.1,460.1 362.8,455.3 363.4,453.9 364.1,466.7 364.8,475.6 365.5,466.6 366.2,454.1 366.9,467.2 367.6,465.7 368.2,463.3 368.9,467.7 369.6,460 370.3,462.7 371,465 371.7,460.3 372.3,463.8 373,460.8 373.7,463.9 374.4,462.7 375.1,453.6 375.8,462.5 376.5,448 377.1,458.6 377.8,455.2 378.5,466 379.2,461.1 379.9,461 380.6,468.1 381.3,465.8 381.9,461.9 382.6,454 383.3,465.8 384,461.9 384.7,461.5 385.4,466.3 386.1,455.7 386.7,462.9 387.4,467.1 388.1,465.8 388.8,460.7 389.5,469.6 390.2,468.3 390.8,471.5 391.5,463.2 392.2,464.3 392.9,467.9 393.6,465.2 394.3,463.8 395,462.7 395.6,461.7 396.3,460 397,459.8 397.7,463.7 398.4,459 399.1,449.4 399.8,445.8 400.4,442.8 401.1,441.4 401.8,436.9 402.5,452.4 403.2,464.9 403.9,472.7 404.6,465.2 405.2,465.2 405.9,466.8 406.6,462.9 407.3,473.1 408,464.1 408.7,474.4 409.3,476.4 410,474.9 410.7,470.7 411.4,471.2 412.1,469.1 412.8,470 413.5,471.6 414.1,478.8 414.8,471.7 415.5,476.4 416.2,476.3 416.9,476.6 417.6,480.5 418.3,478.9 418.9,476.9 419.6,477.1 420.3,475.1 421,468.3 421.7,481.1 422.4,481.6 423.1,476.7 423.7,478.5 424.4,480.9 425.1,475.9 425.8,483.4 426.5,483.8 427.2,484.8 427.8,485.5 428.5,469.5 429.2,484.4 429.9,480.7 430.6,487.6 431.3,487.7 432,487 432.6,490 433.3,496 434,484.1 434.7,480.2 435.4,489.1 436.1,479.1 436.8,493.7 437.4,490.1 438.1,491.7 438.8,490.8 439.5,488.3 440.2,481.2 440.9,484.6 441.6,489.8 442.2,486.8 442.9,489.5 443.6,485.2 444.3,485 445,489.9 445.7,492 446.3,489.1 447,485.1 447.7,490.9 448.4,498.3 449.1,485 449.8,486.4 450.5,487.2 451.1,494.3 451.8,487.5 452.5,493.2 453.2,492.3 453.9,486.4 454.6,492.1 455.3,486.4 455.9,491.2 456.6,495.2 457.3,491.2 458,488.5 458.7,490.8 459.4,492 460.1,494.4 460.7,483.3 461.4,485.4 462.1,495.5 462.8,493.1 463.5,487.5 464.2,494.8 464.8,493.3 465.5,492.2 466.2,494.8 466.9,497.3 467.6,491.8 468.3,494.8 469,490.4 469.6,495.9 470.3,490.1 471,492.3 471.7,495.9 472.4,495.9 473.1,500.1 473.8,499.3 474.4,497.7 475.1,494.4 475.8,487.6 476.5,494.9 477.2,503.4 477.9,498.1 478.6,493.5 479.2,486.4 479.9,501.7 480.6,492.8 481.3,498.1 482,497.4 482.7,505.8 483.4,493.1 484,498.8 484.7,497.8 485.4,500.4 486.1,502.9 486.8,497.6 487.5,496.3 488.1,501 488.8,491.4 489.5,498.3 490.2,493.4 490.9,492.5 491.6,491 492.3,490.7 492.9,501.3 493.6,501.6 494.3,498.4 495,502.4 495.7,498.2 496.4,496 497.1,493.6 497.7,501.5 498.4,501.8 499.1,503.7 499.8,495 500.5,497.3 501.2,492.8 501.9,503.5 502.5,501.7 503.2,500.9 503.9,498.7 504.6,498.2 505.3,497.3 506,503.6 506.6,496.3 507.3,502.8 508,500.3 508.7,487.4 509.4,493 510.1,495.9 510.8,499.1 511.4,493.8 512.1,502 512.8,504.3 513.5,501.8 514.2,492.3 514.9,489.6 515.6,503.3 516.2,506 516.9,498 517.6,502 518.3,498.7 519,497.1 519.7,504.1 520.4,497.6 521,503.6 521.7,507.3 522.4,499.5 523.1,508.1 523.8,494.5 524.5,504.1 525.1,505.2 525.8,511.2 526.5,500.5 527.2,496.9 527.9,507.3 528.6,493.9 529.3,502.3 529.9,497.2 530.6,506.4 531.3,500.1 532,504.3 532.7,500.5 533.4,496 534.1,491.5 534.7,508.4 535.4,501.8 536.1,495.9 536.8,499.5 537.5,505.1 538.2,494.6 538.9,503.7 539.5,500 540.2,499.5 540.9,506.6 541.6,502.1 542.3,497 543,505.2 543.6,503.3 544.3,506.2 545,497.5 545.7,496.7 546.4,504.3 547.1,499.8 547.8,492.5 548.4,499.3 549.1,504.6 549.8,498.8 550.5,507.5 551.2,499.9 551.9,501.7 552.6,495.2 553.2,498.8 553.9,501.5 554.6,504.8 555.3,503.2 556,500.9 556.7,493.1 557.4,502.6 558,501.9 558.7,498 559.4,502.3 560.1,499.3 560.8,504.3 561.5,501 562.1,504.7 562.8,498.6 563.5,513.1 564.2,504.1 564.9,510.1 565.6,501.8 566.3,500.2 566.9,502.9 567.6,500.3 568.3,497.8 569,502.4 569.7,502 570.4,499.4 571.1,500.6 571.7,498 572.4,502.8 573.1,496.4 573.8,509.4 574.5,502.2 575.2,506.1 575.9,496.9 576.5,503.5 577.2,501.5 577.9,506.2 578.6,505.8 579.3,494.9 580,506.9 580.6,495.6 581.3,507.8 582,501.8 582.7,496.9 583.4,511.3 584.1,502.2 584.8,497.8 585.4,498.9 586.1,509.7 586.8,496.3 587.5,498.5 588.2,510.2 588.9,498.9 589.6,503.9 590.2,504.3 590.9,506.5 591.6,506.2 592.3,491.6 593,500.4 593.7,507.7 594.4,499.2 595,510.5 595.7,503.8 596.4,497.5 597.1,505.2 597.8,511.2 598.5,500 599.1,505.4 599.8,499.2 600.5,500.5 601.2,503.6 601.9,505.4 602.6,504.7 603.3,504.2 603.9,513.8 604.6,498.7 605.3,495.4 606,506 606.7,504.5 607.4,497.5 608.1,511.3 608.7,500.9 609.4,497.9 610.1,505.9 610.8,506.9 611.5,514.5 612.2,497.7 612.9,498.9 613.5,503.4 614.2,502.7 614.9,504.4 615.6,501.8 616.3,498.2 617,503.1 617.6,508.2 618.3,508.7 619,502.5 619.7,507.8 620.4,507.4 621.1,503.6 621.8,504.3 622.4,506.2 623.1,518.3 623.8,507 624.5,502.6 625.2,506 625.9,504.4 626.6,512 627.2,497.8 627.9,502.6 628.6,511.2 629.3,509.5 630,501.6 630.7,511.1 631.4,502.4 632,509.8 632.7,503.4 633.4,495.9 634.1,510.7 634.8,505.1 635.5,507 636.1,511.3 636.8,504 637.5,511.3 638.2,518.4 638.9,507.8 639.6,512.8 640.3,518.5 640.9,503.2 641.6,502.7 642.3,508.7 643,499.4 643.7,508.9 644.4,509.9 645.1,510.8 645.7,510.7 646.4,514.6 647.1,507.3 647.8,514.7 648.5,511.1 649.2,511.1 649.9,508.1 650.5,513 651.2,505.6 651.9,512 652.6,513.7 653.3,505.9 654,504.7 654.7,505.6 655.3,508.7 656,510.5 656.7,512.7 657.4,517.1 658.1,516 658.8,510.1 659.4,507.2 660.1,503.7 660.8,512.5 661.5,511.2 662.2,507.7 662.9,508.2 663.6,508.4 664.2,497.7 664.9,508.7 665.6,510.4 666.3,508.4 667,504.3 667.7,509.2 668.4,511 669,516.8 669.7,513.6 670.4,511.6 671.1,508.8 671.8,503.2 672.5,507 673.2,503.1 673.8,508.6 674.5,513.7 675.2,513.6 675.9,513 676.6,509.1 677.3,513.4 677.9,507.9 678.6,500.6 679.3,514 680,509.3 680.7,501.5 681.4,506.8 682.1,498.5 682.7,507.1 683.4,514.4 684.1,506.4 684.8,514.9 685.5,510.2 686.2,506 686.9,501.5 687.5,512.6 688.2,512.2 688.9,502.9 689.6,507.5 690.3,514.2 691,513 691.7,511.1 692.3,500.9 693,505.4 693.7,512.7 694.4,504.4 695.1,503.3 695.8,503.5 696.4,508 697.1,502.8 697.8,509.2 698.5,512.1 699.2,516.4 699.9,508 700.6,516.8 701.2,512.3 701.9,508.9 702.6,512.2 703.3,516.5 704,516.5 704.7,513.3 705.4,509.6 706,513.7 706.7,511.1 707.4,510.9 708.1,511.3 708.8,518.1 709.5,505 710.2,510 710.8,505.6 711.5,514.2 712.2,515.3 712.9,516.4 713.6,509 714.3,510.8 714.9,514 715.6,511.5 716.3,512 717,511.6 717.7,512 718.4,510.3 719.1,512.8 719.7,504.6 720.4,509.2 721.1,505.2 721.8,510.7 722.5,507.9 723.2,513.5 723.9,516.7 724.5,505.9 725.2,507.9 725.9,512.8 726.6,517.7 727.3,514.8 728,513.5 728.7,511.3 729.3,509.7 730,513.4 730.7,513.9 731.4,512.5 732.1,509.3 732.8,504.9 733.4,508.2 734.1,510.3" fill="none" stroke="#1a7a35" stroke-width="4.2" stroke-dasharray="12.7 3.1 6.3 3.1" stroke-linejoin="round" clip-path="url(#ca)"/>
<line x1="55.1" y1="523.6" x2="55.1" y2="539.6" stroke="#4b4d50" stroke-width="3.85"/>
<line x1="55.1" y1="15.8" x2="55.1" y2="-0.2" stroke="#4b4d50" stroke-width="3.85"/>
<line x1="74.7" y1="523.6" x2="74.7" y2="532.6" stroke="#4b4d50" stroke-width="3.85"/>
<line x1="74.7" y1="15.8" x2="74.7" y2="6.8" stroke="#4b4d50" stroke-width="3.85"/>
<line x1="94.3" y1="523.6" x2="94.3" y2="532.6" stroke="#4b4d50" stroke-width="3.85"/>
<line x1="94.3" y1="15.8" x2="94.3" y2="6.8" stroke="#4b4d50" stroke-width="3.85"/>
<line x1="113.8" y1="523.6" x2="113.8" y2="532.6" stroke="#4b4d50" stroke-width="3.85"/>
<line x1="113.8" y1="15.8" x2="113.8" y2="6.8" stroke="#4b4d50" stroke-width="3.85"/>
<line x1="133.4" y1="523.6" x2="133.4" y2="532.6" stroke="#4b4d50" stroke-width="3.85"/>
<line x1="133.4" y1="15.8" x2="133.4" y2="6.8" stroke="#4b4d50" stroke-width="3.85"/>
<line x1="153" y1="523.6" x2="153" y2="539.6" stroke="#4b4d50" stroke-width="3.85"/>
<line x1="153" y1="15.8" x2="153" y2="-0.2" stroke="#4b4d50" stroke-width="3.85"/>
<line x1="172.6" y1="523.6" x2="172.6" y2="532.6" stroke="#4b4d50" stroke-width="3.85"/>
<line x1="172.6" y1="15.8" x2="172.6" y2="6.8" stroke="#4b4d50" stroke-width="3.85"/>
<line x1="192.1" y1="523.6" x2="192.1" y2="532.6" stroke="#4b4d50" stroke-width="3.85"/>
<line x1="192.1" y1="15.8" x2="192.1" y2="6.8" stroke="#4b4d50" stroke-width="3.85"/>
<line x1="211.7" y1="523.6" x2="211.7" y2="532.6" stroke="#4b4d50" stroke-width="3.85"/>
<line x1="211.7" y1="15.8" x2="211.7" y2="6.8" stroke="#4b4d50" stroke-width="3.85"/>
<line x1="231.3" y1="523.6" x2="231.3" y2="532.6" stroke="#4b4d50" stroke-width="3.85"/>
<line x1="231.3" y1="15.8" x2="231.3" y2="6.8" stroke="#4b4d50" stroke-width="3.85"/>
<line x1="250.9" y1="523.6" x2="250.9" y2="539.6" stroke="#4b4d50" stroke-width="3.85"/>
<line x1="250.9" y1="15.8" x2="250.9" y2="-0.2" stroke="#4b4d50" stroke-width="3.85"/>
<line x1="270.4" y1="523.6" x2="270.4" y2="532.6" stroke="#4b4d50" stroke-width="3.85"/>
<line x1="270.4" y1="15.8" x2="270.4" y2="6.8" stroke="#4b4d50" stroke-width="3.85"/>
<line x1="290" y1="523.6" x2="290" y2="532.6" stroke="#4b4d50" stroke-width="3.85"/>
<line x1="290" y1="15.8" x2="290" y2="6.8" stroke="#4b4d50" stroke-width="3.85"/>
<line x1="309.6" y1="523.6" x2="309.6" y2="532.6" stroke="#4b4d50" stroke-width="3.85"/>
<line x1="309.6" y1="15.8" x2="309.6" y2="6.8" stroke="#4b4d50" stroke-width="3.85"/>
<line x1="329.2" y1="523.6" x2="329.2" y2="532.6" stroke="#4b4d50" stroke-width="3.85"/>
<line x1="329.2" y1="15.8" x2="329.2" y2="6.8" stroke="#4b4d50" stroke-width="3.85"/>
<line x1="348.8" y1="523.6" x2="348.8" y2="539.6" stroke="#4b4d50" stroke-width="3.85"/>
<line x1="348.8" y1="15.8" x2="348.8" y2="-0.2" stroke="#4b4d50" stroke-width="3.85"/>
<line x1="368.3" y1="523.6" x2="368.3" y2="532.6" stroke="#4b4d50" stroke-width="3.85"/>
<line x1="368.3" y1="15.8" x2="368.3" y2="6.8" stroke="#4b4d50" stroke-width="3.85"/>
<line x1="387.9" y1="523.6" x2="387.9" y2="532.6" stroke="#4b4d50" stroke-width="3.85"/>
<line x1="387.9" y1="15.8" x2="387.9" y2="6.8" stroke="#4b4d50" stroke-width="3.85"/>
<line x1="407.5" y1="523.6" x2="407.5" y2="532.6" stroke="#4b4d50" stroke-width="3.85"/>
<line x1="407.5" y1="15.8" x2="407.5" y2="6.8" stroke="#4b4d50" stroke-width="3.85"/>
<line x1="427.1" y1="523.6" x2="427.1" y2="532.6" stroke="#4b4d50" stroke-width="3.85"/>
<line x1="427.1" y1="15.8" x2="427.1" y2="6.8" stroke="#4b4d50" stroke-width="3.85"/>
<line x1="446.6" y1="523.6" x2="446.6" y2="539.6" stroke="#4b4d50" stroke-width="3.85"/>
<line x1="446.6" y1="15.8" x2="446.6" y2="-0.2" stroke="#4b4d50" stroke-width="3.85"/>
<line x1="466.2" y1="523.6" x2="466.2" y2="532.6" stroke="#4b4d50" stroke-width="3.85"/>
<line x1="466.2" y1="15.8" x2="466.2" y2="6.8" stroke="#4b4d50" stroke-width="3.85"/>
<line x1="485.8" y1="523.6" x2="485.8" y2="532.6" stroke="#4b4d50" stroke-width="3.85"/>
<line x1="485.8" y1="15.8" x2="485.8" y2="6.8" stroke="#4b4d50" stroke-width="3.85"/>
<line x1="505.4" y1="523.6" x2="505.4" y2="532.6" stroke="#4b4d50" stroke-width="3.85"/>
<line x1="505.4" y1="15.8" x2="505.4" y2="6.8" stroke="#4b4d50" stroke-width="3.85"/>
<line x1="525" y1="523.6" x2="525" y2="532.6" stroke="#4b4d50" stroke-width="3.85"/>
<line x1="525" y1="15.8" x2="525" y2="6.8" stroke="#4b4d50" stroke-width="3.85"/>
<line x1="544.5" y1="523.6" x2="544.5" y2="539.6" stroke="#4b4d50" stroke-width="3.85"/>
<line x1="544.5" y1="15.8" x2="544.5" y2="-0.2" stroke="#4b4d50" stroke-width="3.85"/>
<line x1="564.1" y1="523.6" x2="564.1" y2="532.6" stroke="#4b4d50" stroke-width="3.85"/>
<line x1="564.1" y1="15.8" x2="564.1" y2="6.8" stroke="#4b4d50" stroke-width="3.85"/>
<line x1="583.7" y1="523.6" x2="583.7" y2="532.6" stroke="#4b4d50" stroke-width="3.85"/>
<line x1="583.7" y1="15.8" x2="583.7" y2="6.8" stroke="#4b4d50" stroke-width="3.85"/>
<line x1="603.3" y1="523.6" x2="603.3" y2="532.6" stroke="#4b4d50" stroke-width="3.85"/>
<line x1="603.3" y1="15.8" x2="603.3" y2="6.8" stroke="#4b4d50" stroke-width="3.85"/>
<line x1="622.8" y1="523.6" x2="622.8" y2="532.6" stroke="#4b4d50" stroke-width="3.85"/>
<line x1="622.8" y1="15.8" x2="622.8" y2="6.8" stroke="#4b4d50" stroke-width="3.85"/>
<line x1="642.4" y1="523.6" x2="642.4" y2="539.6" stroke="#4b4d50" stroke-width="3.85"/>
<line x1="642.4" y1="15.8" x2="642.4" y2="-0.2" stroke="#4b4d50" stroke-width="3.85"/>
<line x1="662" y1="523.6" x2="662" y2="532.6" stroke="#4b4d50" stroke-width="3.85"/>
<line x1="662" y1="15.8" x2="662" y2="6.8" stroke="#4b4d50" stroke-width="3.85"/>
<line x1="681.6" y1="523.6" x2="681.6" y2="532.6" stroke="#4b4d50" stroke-width="3.85"/>
<line x1="681.6" y1="15.8" x2="681.6" y2="6.8" stroke="#4b4d50" stroke-width="3.85"/>
<line x1="701.1" y1="523.6" x2="701.1" y2="532.6" stroke="#4b4d50" stroke-width="3.85"/>
<line x1="701.1" y1="15.8" x2="701.1" y2="6.8" stroke="#4b4d50" stroke-width="3.85"/>
<line x1="720.7" y1="523.6" x2="720.7" y2="532.6" stroke="#4b4d50" stroke-width="3.85"/>
<line x1="720.7" y1="15.8" x2="720.7" y2="6.8" stroke="#4b4d50" stroke-width="3.85"/>
<line x1="740.3" y1="523.6" x2="740.3" y2="539.6" stroke="#4b4d50" stroke-width="3.85"/>
<line x1="740.3" y1="15.8" x2="740.3" y2="-0.2" stroke="#4b4d50" stroke-width="3.85"/>
<line x1="55.1" y1="15.8" x2="740.3" y2="15.8" stroke="#4b4d50" stroke-width="3.85"/>
<line x1="55.1" y1="523.6" x2="740.3" y2="523.6" stroke="#4b4d50" stroke-width="3.85"/>
<line x1="55.1" y1="523.4" x2="39.6" y2="523.4" stroke="#231f20" stroke-width="3.85"/>
<line x1="740.3" y1="523.4" x2="755.8" y2="523.4" stroke="#231f20" stroke-width="3.85"/>
<line x1="55.1" y1="500.3" x2="46.1" y2="500.3" stroke="#231f20" stroke-width="3.85"/>
<line x1="740.3" y1="500.3" x2="749.3" y2="500.3" stroke="#231f20" stroke-width="3.85"/>
<line x1="55.1" y1="477.2" x2="46.1" y2="477.2" stroke="#231f20" stroke-width="3.85"/>
<line x1="740.3" y1="477.2" x2="749.3" y2="477.2" stroke="#231f20" stroke-width="3.85"/>
<line x1="55.1" y1="454.1" x2="46.1" y2="454.1" stroke="#231f20" stroke-width="3.85"/>
<line x1="740.3" y1="454.1" x2="749.3" y2="454.1" stroke="#231f20" stroke-width="3.85"/>
<line x1="55.1" y1="431" x2="46.1" y2="431" stroke="#231f20" stroke-width="3.85"/>
<line x1="740.3" y1="431" x2="749.3" y2="431" stroke="#231f20" stroke-width="3.85"/>
<line x1="55.1" y1="407.9" x2="39.6" y2="407.9" stroke="#231f20" stroke-width="3.85"/>
<line x1="740.3" y1="407.9" x2="755.8" y2="407.9" stroke="#231f20" stroke-width="3.85"/>
<line x1="55.1" y1="384.8" x2="46.1" y2="384.8" stroke="#231f20" stroke-width="3.85"/>
<line x1="740.3" y1="384.8" x2="749.3" y2="384.8" stroke="#231f20" stroke-width="3.85"/>
<line x1="55.1" y1="361.7" x2="46.1" y2="361.7" stroke="#231f20" stroke-width="3.85"/>
<line x1="740.3" y1="361.7" x2="749.3" y2="361.7" stroke="#231f20" stroke-width="3.85"/>
<line x1="55.1" y1="338.6" x2="46.1" y2="338.6" stroke="#231f20" stroke-width="3.85"/>
<line x1="740.3" y1="338.6" x2="749.3" y2="338.6" stroke="#231f20" stroke-width="3.85"/>
<line x1="55.1" y1="315.5" x2="46.1" y2="315.5" stroke="#231f20" stroke-width="3.85"/>
<line x1="740.3" y1="315.5" x2="749.3" y2="315.5" stroke="#231f20" stroke-width="3.85"/>
<line x1="55.1" y1="292.4" x2="39.6" y2="292.4" stroke="#231f20" stroke-width="3.85"/>
<line x1="740.3" y1="292.4" x2="755.8" y2="292.4" stroke="#231f20" stroke-width="3.85"/>
<line x1="55.1" y1="269.3" x2="46.1" y2="269.3" stroke="#231f20" stroke-width="3.85"/>
<line x1="740.3" y1="269.3" x2="749.3" y2="269.3" stroke="#231f20" stroke-width="3.85"/>
<line x1="55.1" y1="246.2" x2="46.1" y2="246.2" stroke="#231f20" stroke-width="3.85"/>
<line x1="740.3" y1="246.2" x2="749.3" y2="246.2" stroke="#231f20" stroke-width="3.85"/>
<line x1="55.1" y1="223.1" x2="46.1" y2="223.1" stroke="#231f20" stroke-width="3.85"/>
<line x1="740.3" y1="223.1" x2="749.3" y2="223.1" stroke="#231f20" stroke-width="3.85"/>
<line x1="55.1" y1="200" x2="46.1" y2="200" stroke="#231f20" stroke-width="3.85"/>
<line x1="740.3" y1="200" x2="749.3" y2="200" stroke="#231f20" stroke-width="3.85"/>
<line x1="55.1" y1="176.9" x2="39.6" y2="176.9" stroke="#231f20" stroke-width="3.85"/>
<line x1="740.3" y1="176.9" x2="755.8" y2="176.9" stroke="#231f20" stroke-width="3.85"/>
<line x1="55.1" y1="153.8" x2="46.1" y2="153.8" stroke="#231f20" stroke-width="3.85"/>
<line x1="740.3" y1="153.8" x2="749.3" y2="153.8" stroke="#231f20" stroke-width="3.85"/>
<line x1="55.1" y1="130.7" x2="46.1" y2="130.7" stroke="#231f20" stroke-width="3.85"/>
<line x1="740.3" y1="130.7" x2="749.3" y2="130.7" stroke="#231f20" stroke-width="3.85"/>
<line x1="55.1" y1="107.6" x2="46.1" y2="107.6" stroke="#231f20" stroke-width="3.85"/>
<line x1="740.3" y1="107.6" x2="749.3" y2="107.6" stroke="#231f20" stroke-width="3.85"/>
<line x1="55.1" y1="84.5" x2="46.1" y2="84.5" stroke="#231f20" stroke-width="3.85"/>
<line x1="740.3" y1="84.5" x2="749.3" y2="84.5" stroke="#231f20" stroke-width="3.85"/>
<line x1="55.1" y1="61.4" x2="39.6" y2="61.4" stroke="#231f20" stroke-width="3.85"/>
<line x1="740.3" y1="61.4" x2="755.8" y2="61.4" stroke="#231f20" stroke-width="3.85"/>
<line x1="55.1" y1="38.3" x2="46.1" y2="38.3" stroke="#231f20" stroke-width="3.85"/>
<line x1="740.3" y1="38.3" x2="749.3" y2="38.3" stroke="#231f20" stroke-width="3.85"/>
<line x1="55.1" y1="15.2" x2="46.1" y2="15.2" stroke="#231f20" stroke-width="3.85"/>
<line x1="740.3" y1="15.2" x2="749.3" y2="15.2" stroke="#231f20" stroke-width="3.85"/>
<line x1="55.1" y1="14" x2="55.1" y2="525.4" stroke="#231f20" stroke-width="3.85"/>
<line x1="740.3" y1="14" x2="740.3" y2="525.4" stroke="#231f20" stroke-width="3.85"/>
<text transform="translate(55.1 577.8) scale(1.0 1.035)" font-size="29" fill="#4b4d50" text-anchor="middle" font-family="Liberation Sans, Arial, sans-serif">15</text>
<text transform="translate(153 577.8) scale(1.0 1.035)" font-size="29" fill="#4b4d50" text-anchor="middle" font-family="Liberation Sans, Arial, sans-serif">20</text>
<text transform="translate(250.9 577.8) scale(1.0 1.035)" font-size="29" fill="#4b4d50" text-anchor="middle" font-family="Liberation Sans, Arial, sans-serif">25</text>
<text transform="translate(348.8 577.8) scale(1.0 1.035)" font-size="29" fill="#4b4d50" text-anchor="middle" font-family="Liberation Sans, Arial, sans-serif">30</text>
<text transform="translate(446.6 577.8) scale(1.0 1.035)" font-size="29" fill="#4b4d50" text-anchor="middle" font-family="Liberation Sans, Arial, sans-serif">35</text>
<text transform="translate(544.5 577.8) scale(1.0 1.035)" font-size="29" fill="#4b4d50" text-anchor="middle" font-family="Liberation Sans, Arial, sans-serif">40</text>
<text transform="translate(642.4 577.8) scale(1.0 1.035)" font-size="29" fill="#4b4d50" text-anchor="middle" font-family="Liberation Sans, Arial, sans-serif">45</text>
<text transform="translate(740.3 577.8) scale(1.0 1.035)" font-size="29" fill="#4b4d50" text-anchor="middle" font-family="Liberation Sans, Arial, sans-serif">50</text>
<text x="324.6" y="622.9" font-size="32.5" fill="#4b4d50" font-family="Liberation Sans, Arial, sans-serif">2-theta (<tspan dx="4.2" dy="1.8" font-size="35">&#176;</tspan><tspan dx="0.8" dy="-1.8">)</tspan></text>
<text transform="translate(24.6 270.5) rotate(-90)" font-size="32.4" fill="#231f20" text-anchor="middle" font-family="Liberation Sans, Arial, sans-serif">Intensity (c.p.m.)</text>
<text transform="translate(346.8 686.5)" font-size="38" fill="#231f20" text-anchor="middle" font-weight="bold" font-family="Liberation Sans, Arial, sans-serif">(a)</text>
<g transform="translate(182 217.8) rotate(-90)" fill="#e2283a" stroke="#fff" stroke-width="0.25" font-family="Liberation Serif, Times New Roman, serif"><text x="0" y="0" font-size="25.2">V</text><text x="20.6" y="5.2" font-size="20.4">006</text></g>
<g transform="translate(219.3 217.8) rotate(-90)" fill="#2a58ae" stroke="#fff" stroke-width="0.25" font-family="Liberation Serif, Times New Roman, serif"><text x="0" y="0" font-size="26.5" transform="scale(0.88 1)">C</text><text x="19.2" y="0" font-size="20.2">C</text><text x="32.6" y="8.9" font-size="20.4">102</text><rect x="53.8" y="-10.2" width="8.8" height="1.7"/></g>
<g transform="translate(256 217.8) rotate(-90)" fill="#e2283a" stroke="#fff" stroke-width="0.25" font-family="Liberation Serif, Times New Roman, serif"><text x="0" y="0" font-size="25.2">V</text><text x="20.6" y="8.9" font-size="20.4">210</text><rect x="31.6" y="-10.2" width="8.8" height="1.7"/></g>
<g transform="translate(298.1 217.8) rotate(-90)" fill="#e2283a" stroke="#fff" stroke-width="0.25" font-family="Liberation Serif, Times New Roman, serif"><text x="0" y="0" font-size="25.2">V</text><text x="20.6" y="8.9" font-size="20.4">213</text><rect x="31.6" y="-10.2" width="8.8" height="1.7"/></g>
<g transform="translate(390.2 217.8) rotate(-90)" fill="#2a58ae" stroke="#fff" stroke-width="0.25" font-family="Liberation Serif, Times New Roman, serif"><text x="0" y="0" font-size="26.5" transform="scale(0.88 1)">C</text><text x="19.2" y="0" font-size="20.2">C</text><text x="32.6" y="5.2" font-size="20.4">006</text></g>
<g transform="translate(408.4 217.8) rotate(-90)" fill="#e2283a" stroke="#fff" stroke-width="0.25" font-family="Liberation Serif, Times New Roman, serif"><text x="0" y="0" font-size="25.2">V</text><text x="20.6" y="8.9" font-size="20.4">216</text><rect x="31.6" y="-10.2" width="8.8" height="1.7"/></g>
<g transform="translate(473.5 217.8) rotate(-90)" fill="#2a58ae" stroke="#fff" stroke-width="0.25" font-family="Liberation Serif, Times New Roman, serif"><text x="0" y="0" font-size="26.5" transform="scale(0.88 1)">C</text><text x="19.2" y="0" font-size="20.2">C</text><text x="32.6" y="8.9" font-size="20.4">210</text><rect x="43.6" y="-10.2" width="8.8" height="1.7"/></g>
<g transform="translate(541.1 217.8) rotate(-90)" fill="#2a58ae" stroke="#fff" stroke-width="0.25" font-family="Liberation Serif, Times New Roman, serif"><text x="0" y="0" font-size="26.5" transform="scale(0.88 1)">C</text><text x="19.2" y="0" font-size="20.2">C</text><text x="32.6" y="8.9" font-size="20.4">213</text><rect x="43.6" y="-10.2" width="8.8" height="1.7"/></g>
<g transform="translate(614.3 217.8) rotate(-90)" fill="#2a58ae" stroke="#fff" stroke-width="0.25" font-family="Liberation Serif, Times New Roman, serif"><text x="0" y="0" font-size="26.5" transform="scale(0.88 1)">C</text><text x="19.2" y="0" font-size="20.2">C</text><text x="32.6" y="5.2" font-size="20.4">202</text></g>
<g transform="translate(637.4 217.8) rotate(-90)" fill="#e2283a" stroke="#fff" stroke-width="0.25" font-family="Liberation Serif, Times New Roman, serif"><text x="0" y="0" font-size="25.2">V</text><text x="20.6" y="5.2" font-size="20.4">301</text></g>
<g transform="translate(693 217.8) rotate(-90)" fill="#2a58ae" stroke="#fff" stroke-width="0.25" font-family="Liberation Serif, Times New Roman, serif"><text x="0" y="0" font-size="26.5" transform="scale(0.88 1)">C</text><text x="19.2" y="0" font-size="20.2">C</text><text x="32.6" y="8.9" font-size="20.4">108</text><rect x="53.8" y="-10.2" width="8.8" height="1.7"/></g>
<g transform="translate(719 217.8) rotate(-90)" fill="#2a58ae" stroke="#fff" stroke-width="0.25" font-family="Liberation Serif, Times New Roman, serif"><text x="0" y="0" font-size="26.5" transform="scale(0.88 1)">C</text><text x="19.2" y="0" font-size="20.2">C</text><text x="32.6" y="8.9" font-size="20.4">216</text><rect x="43.6" y="-10.2" width="8.8" height="1.7"/></g>
<g transform="translate(322.4 112.4) rotate(-90)" fill="#2a58ae" stroke="#fff" stroke-width="0.25" font-family="Liberation Serif, Times New Roman, serif"><text x="0" y="0" font-size="26.5" transform="scale(0.88 1)">C</text><text x="19.2" y="0" font-size="20.2">C</text><text x="32.6" y="5.2" font-size="20.4">104</text></g>
<rect x="500.6" y="32.9" width="222.6" height="107.5" fill="#fff" stroke="#4b4d50" stroke-width="3.6"/>
<line x1="506.8" y1="53.1" x2="569.9" y2="53.1" stroke="#1f4ba3" stroke-width="4"/>
<text transform="translate(582.2 63.3) scale(1.0 1.1)" font-size="26.4" fill="#231f20" font-family="Liberation Sans, Arial, sans-serif">SN01-0.3M</text>
<line x1="506.8" y1="86.9" x2="569.9" y2="86.9" stroke="#e0202f" stroke-width="4" stroke-dasharray="3.2 3.1"/>
<text transform="translate(582.2 97.1) scale(1.0 1.1)" font-size="26.4" fill="#231f20" font-family="Liberation Sans, Arial, sans-serif">SA01-0.3M</text>
<line x1="506.8" y1="120.7" x2="569.9" y2="120.7" stroke="#1a7a35" stroke-width="4" stroke-dasharray="12.7 3.1 6.3 3.1"/>
<text transform="translate(582.2 130.9) scale(1.0 1.1)" font-size="26.4" fill="#231f20" font-family="Liberation Sans, Arial, sans-serif">SP01-0.3M</text>
<polyline points="981.2,54.6 982.8,54.6 984.4,54.5 986,54.5 987.6,54.4 989.2,54.4 990.8,54.4 992.4,54.4 994,54.3 995.6,54.3 997.2,54.3 998.8,54.3 1000.4,54.3 1002,54.3 1003.6,54.3 1005.2,54.3 1006.8,54.3 1008.4,54.3 1010,54.3 1011.6,54.3 1013.1,54.3 1014.7,54.4 1016.3,54.4 1017.9,54.4 1019.5,54.5 1021.1,54.6 1022.7,54.6 1024.3,54.7 1025.9,54.8 1027.5,54.8 1029.1,54.9 1030.7,55 1032.3,55.1 1033.9,55.2 1035.5,55.2 1037.1,55.3 1038.7,55.4 1040.3,55.5 1041.9,55.6 1043.5,55.7 1045.1,55.8 1046.7,56 1048.3,56.1 1049.9,56.2 1051.5,56.4 1053.1,56.6 1054.7,56.8 1056.3,56.9 1057.9,57.2 1059.5,57.4 1061.1,57.6 1062.7,57.9 1064.3,58.2 1065.9,58.5 1067.5,58.9 1069.1,59.3 1070.7,59.7 1072.3,60.2 1073.9,60.6 1075.5,61.1 1077,61.5 1078.6,62 1080.2,62.6 1081.8,63.2 1083.4,64 1085,64.8 1086.6,65.6 1088.2,66.3 1089.8,67 1091.4,67.6 1093,68 1094.6,68.2 1096.2,68.4 1097.8,68.6 1099.4,68.7 1101,68.8 1102.6,68.9 1104.2,69 1105.8,69.1 1107.4,69.2 1109,69.3 1110.6,69.3 1112.2,69.4 1113.8,69.5 1115.4,69.5 1117,69.6 1118.6,69.7 1120.2,69.8 1121.8,69.9 1123.4,70 1125,70.1 1126.6,70.2 1128.2,70.3 1129.8,70.4 1131.4,70.6 1133,70.7 1134.6,70.8 1136.2,71 1137.8,71.1 1139.4,71.2 1140.9,71.4 1142.5,71.5 1144.1,71.7 1145.7,71.8 1147.3,72 1148.9,72.1 1150.5,72.3 1152.1,72.4 1153.7,72.6 1155.3,72.8 1156.9,73 1158.5,73.1 1160.1,73.3 1161.7,73.5 1163.3,73.7 1164.9,73.9 1166.5,74.1 1168.1,74.3 1169.7,74.6 1171.3,74.8 1172.9,75 1174.5,75.3 1176.1,75.5 1177.7,75.8 1179.3,76.1 1180.9,76.4 1182.5,76.7 1184.1,77.1 1185.7,77.5 1187.3,77.9 1188.9,78.3 1190.5,78.7 1192.1,79.2 1193.7,79.6 1195.3,80.1 1196.9,80.5 1198.5,81 1200.1,81.5 1201.7,82 1203.3,82.6 1204.8,83.1 1206.4,83.7 1208,84.4 1209.6,85.1 1211.2,85.8 1212.8,86.6 1214.4,87.6 1216,88.7 1217.6,89.8 1219.2,91 1220.8,92.1 1222.4,93.1 1224,94 1225.6,94.8 1227.2,95.6 1228.8,96.4 1230.4,97.2 1232,98 1233.6,98.9 1235.2,99.8 1236.8,100.8 1238.4,102 1240,103.2 1241.6,104.9 1243.2,107.2 1244.8,109.6 1246.4,111.7 1248,113.3 1249.6,114.7 1251.2,115.9 1252.8,117 1254.4,118 1256,118.9 1257.6,119.8 1259.2,120.6 1260.8,121.3 1262.4,122 1264,122.6 1265.6,123.2 1267.2,123.7 1268.7,124.1 1270.3,124.6 1271.9,125 1273.5,125.4 1275.1,125.7 1276.7,126.1 1278.3,126.4 1279.9,126.7 1281.5,127.1 1283.1,127.4 1284.7,127.7 1286.3,128 1287.9,128.4 1289.5,128.7 1291.1,129 1292.7,129.4 1294.3,129.8 1295.9,130.1 1297.5,130.5 1299.1,130.9 1300.7,131.2 1302.3,131.6 1303.9,131.9 1305.5,132.3 1307.1,132.6 1308.7,132.9 1310.3,133.2 1311.9,133.5 1313.5,133.7 1315.1,134 1316.7,134.2 1318.3,134.4 1319.9,134.6 1321.5,134.8 1323.1,135 1324.7,135.1 1326.3,135.3 1327.9,135.5 1329.5,135.6 1331.1,135.8 1332.6,135.9 1334.2,136.1 1335.8,136.2 1337.4,136.4 1339,136.6 1340.6,136.7 1342.2,136.9 1343.8,137.1 1345.4,137.3 1347,137.5 1348.6,137.7 1350.2,137.9 1351.8,138.1 1353.4,138.4 1355,138.7 1356.6,139 1358.2,139.3 1359.8,139.7 1361.4,140.1 1363,140.6 1364.6,141.1 1366.2,141.6 1367.8,142.1 1369.4,142.8 1371,143.4 1372.6,144.2 1374.2,145 1375.8,145.8 1377.4,146.6 1379,147.5 1380.6,148.4 1382.2,149.4 1383.8,150.5 1385.4,151.6 1387,152.7 1388.6,153.9 1390.2,155.1 1391.8,156.4 1393.4,157.7 1395,159.1 1396.5,160.6 1398.1,162.3 1399.7,164.1 1401.3,166.1 1402.9,168.4 1404.5,171 1406.1,173.7 1407.7,176.6 1409.3,179.7 1410.9,182.7 1412.5,186 1414.1,189.4 1415.7,193 1417.3,196.8 1418.9,200.7 1420.5,204.7 1422.1,208.9 1423.7,213.3 1425.3,217.9 1426.9,222.7 1428.5,227.6 1430.1,232.7 1431.7,237.7 1433.3,242.8 1434.9,248 1436.5,253.2 1438.1,258.5 1439.7,263.9 1441.3,269.4 1442.9,274.9 1444.5,280.4 1446.1,285.9 1447.7,291.4 1449.3,297 1450.9,302.8 1452.5,308.9 1454.1,315.4 1455.7,322.6 1457.3,330.5 1458.9,338.8 1460.4,347.2 1462,355.8 1463.6,365.6 1465.2,374.9 1466.8,381.1 1468.4,384.7 1470,387.5 1471.6,389.2 1473.2,389.6 1474.8,389.9 1476.4,390.2 1478,390.4 1479.6,390.6 1481.2,390.8 1482.8,390.9 1484.4,391.1 1486,391.2 1487.6,391.3 1489.2,391.3 1490.8,391.4 1492.4,391.5 1494,391.6 1495.6,391.7 1497.2,391.8 1498.8,391.8 1500.4,392 1502,392.1 1503.6,392.2 1505.2,392.4 1506.8,392.6 1508.4,392.8 1510,392.9 1511.6,393.1 1513.2,393.3 1514.8,393.5 1516.4,393.7 1518,393.9 1519.6,394.1 1521.2,394.3 1522.8,394.5 1524.3,394.7 1525.9,394.9 1527.5,395.2 1529.1,395.4 1530.7,395.6 1532.3,395.8 1533.9,396 1535.5,396.2 1537.1,396.5 1538.7,396.7 1540.3,396.9 1541.9,397.1 1543.5,397.3 1545.1,397.6 1546.7,397.8 1548.3,398.1 1549.9,398.3 1551.5,398.6 1553.1,398.9 1554.7,399.2 1556.3,399.5 1557.9,399.8 1559.5,400.1 1561.1,400.4 1562.7,400.7 1564.3,401 1565.9,401.2 1567.5,401.5 1569.1,401.8 1570.7,402.1 1572.3,402.3 1573.9,402.5 1575.5,402.8 1577.1,403 1578.7,403.1 1580.3,403.3 1581.9,403.4 1583.5,403.5 1585.1,403.6 1586.7,403.7 1588.2,403.7 1589.8,403.8 1591.4,403.8 1593,403.9 1594.6,404 1596.2,404 1597.8,404.1 1599.4,404.1 1601,404.1 1602.6,404.2 1604.2,404.2 1605.8,404.3 1607.4,404.3 1609,404.3 1610.6,404.3 1612.2,404.4 1613.8,404.4 1615.4,404.4 1617,404.4 1618.6,404.4" fill="none" stroke="#1f4ba3" stroke-width="4.5" stroke-linejoin="round" clip-path="url(#cb)"/>
<polyline points="981.2,54.6 982.8,54.8 984.4,55.1 986,55.3 987.6,55.6 989.2,55.8 990.8,56 992.4,56.3 994,56.5 995.6,56.7 997.2,57 998.8,57.2 1000.4,57.4 1002,57.7 1003.6,57.9 1005.2,58.1 1006.8,58.3 1008.4,58.6 1010,58.8 1011.6,59 1013.1,59.2 1014.7,59.4 1016.3,59.7 1017.9,59.9 1019.5,60.1 1021.1,60.3 1022.7,60.5 1024.3,60.7 1025.9,60.9 1027.5,61.1 1029.1,61.3 1030.7,61.5 1032.3,61.7 1033.9,61.9 1035.5,62.1 1037.1,62.3 1038.7,62.5 1040.3,62.7 1041.9,62.8 1043.5,63 1045.1,63.2 1046.7,63.4 1048.3,63.5 1049.9,63.7 1051.5,63.9 1053.1,64 1054.7,64.2 1056.3,64.4 1057.9,64.5 1059.5,64.7 1061.1,64.9 1062.7,65 1064.3,65.2 1065.9,65.4 1067.5,65.5 1069.1,65.7 1070.7,65.9 1072.3,66.1 1073.9,66.3 1075.5,66.4 1077,66.6 1078.6,66.8 1080.2,67 1081.8,67.2 1083.4,67.4 1085,67.7 1086.6,67.9 1088.2,68.1 1089.8,68.3 1091.4,68.6 1093,68.8 1094.6,69.1 1096.2,69.3 1097.8,69.6 1099.4,69.9 1101,70.2 1102.6,70.5 1104.2,70.8 1105.8,71.1 1107.4,71.4 1109,71.8 1110.6,72.1 1112.2,72.5 1113.8,72.8 1115.4,73.2 1117,73.6 1118.6,74 1120.2,74.3 1121.8,74.7 1123.4,75.1 1125,75.5 1126.6,75.9 1128.2,76.3 1129.8,76.7 1131.4,77.2 1133,77.6 1134.6,78 1136.2,78.4 1137.8,78.8 1139.4,79.2 1140.9,79.7 1142.5,80.1 1144.1,80.5 1145.7,80.9 1147.3,81.4 1148.9,81.8 1150.5,82.3 1152.1,82.8 1153.7,83.2 1155.3,83.7 1156.9,84.2 1158.5,84.8 1160.1,85.3 1161.7,85.8 1163.3,86.3 1164.9,86.8 1166.5,87.3 1168.1,87.9 1169.7,88.4 1171.3,88.9 1172.9,89.4 1174.5,89.9 1176.1,90.3 1177.7,90.8 1179.3,91.2 1180.9,91.7 1182.5,92.1 1184.1,92.5 1185.7,92.9 1187.3,93.2 1188.9,93.6 1190.5,94 1192.1,94.4 1193.7,94.7 1195.3,95.1 1196.9,95.5 1198.5,95.8 1200.1,96.2 1201.7,96.6 1203.3,96.9 1204.8,97.3 1206.4,97.6 1208,97.9 1209.6,98.3 1211.2,98.6 1212.8,98.9 1214.4,99.3 1216,99.6 1217.6,99.9 1219.2,100.2 1220.8,100.5 1222.4,100.8 1224,101.1 1225.6,101.4 1227.2,101.6 1228.8,101.9 1230.4,102.2 1232,102.5 1233.6,102.7 1235.2,103 1236.8,103.2 1238.4,103.4 1240,103.7 1241.6,103.9 1243.2,104.1 1244.8,104.3 1246.4,104.5 1248,104.8 1249.6,105 1251.2,105.2 1252.8,105.4 1254.4,105.6 1256,105.8 1257.6,105.9 1259.2,106.1 1260.8,106.3 1262.4,106.5 1264,106.7 1265.6,106.8 1267.2,107 1268.7,107.2 1270.3,107.4 1271.9,107.5 1273.5,107.7 1275.1,107.8 1276.7,108 1278.3,108.2 1279.9,108.3 1281.5,108.4 1283.1,108.6 1284.7,108.7 1286.3,108.9 1287.9,109 1289.5,109.2 1291.1,109.3 1292.7,109.4 1294.3,109.5 1295.9,109.7 1297.5,109.8 1299.1,109.9 1300.7,110 1302.3,110.1 1303.9,110.2 1305.5,110.3 1307.1,110.4 1308.7,110.5 1310.3,110.6 1311.9,110.7 1313.5,110.7 1315.1,110.8 1316.7,110.9 1318.3,111 1319.9,111.1 1321.5,111.2 1323.1,111.3 1324.7,111.4 1326.3,111.6 1327.9,111.7 1329.5,111.9 1331.1,112.1 1332.6,112.3 1334.2,112.5 1335.8,112.7 1337.4,112.9 1339,113.2 1340.6,113.5 1342.2,113.8 1343.8,114.1 1345.4,114.4 1347,114.8 1348.6,115.1 1350.2,115.5 1351.8,115.9 1353.4,116.3 1355,116.8 1356.6,117.2 1358.2,117.7 1359.8,118.2 1361.4,118.8 1363,119.5 1364.6,120.2 1366.2,121 1367.8,121.9 1369.4,122.9 1371,124 1372.6,125.1 1374.2,126.2 1375.8,127.5 1377.4,128.8 1379,130.1 1380.6,131.5 1382.2,132.9 1383.8,134.5 1385.4,136.3 1387,138.2 1388.6,140.3 1390.2,142.5 1391.8,144.9 1393.4,147.4 1395,150 1396.5,152.7 1398.1,155.6 1399.7,158.5 1401.3,161.6 1402.9,165.1 1404.5,168.8 1406.1,172.8 1407.7,177.1 1409.3,181.6 1410.9,186.2 1412.5,191.1 1414.1,196.1 1415.7,201.4 1417.3,207.1 1418.9,213.2 1420.5,219.7 1422.1,226.4 1423.7,233.3 1425.3,240.3 1426.9,247.7 1428.5,255.5 1430.1,263.7 1431.7,272 1433.3,280.3 1434.9,288.4 1436.5,296.3 1438.1,304.2 1439.7,312.3 1441.3,320.3 1442.9,328 1444.5,335.3 1446.1,341.9 1447.7,347.7 1449.3,353 1450.9,357.5 1452.5,361.3 1454.1,364.5 1455.7,365.1 1457.3,365.3 1458.9,365.4 1460.4,365.5 1462,365.6 1463.6,365.7 1465.2,365.8 1466.8,365.9 1468.4,365.9 1470,366 1471.6,366 1473.2,366 1474.8,366.1 1476.4,366.1 1478,366.1 1479.6,366.2 1481.2,366.3 1482.8,366.3 1484.4,366.4 1486,366.5 1487.6,366.6 1489.2,366.7 1490.8,366.8 1492.4,366.9 1494,367 1495.6,367.1 1497.2,367.3 1498.8,367.4 1500.4,367.5 1502,367.6 1503.6,367.7 1505.2,367.9 1506.8,368 1508.4,368.1 1510,368.2 1511.6,368.4 1513.2,368.5 1514.8,368.6 1516.4,368.8 1518,368.9 1519.6,369 1521.2,369.2 1522.8,369.3 1524.3,369.5 1525.9,369.6 1527.5,369.7 1529.1,369.9 1530.7,370 1532.3,370.2 1533.9,370.3 1535.5,370.5 1537.1,370.6 1538.7,370.8 1540.3,370.9 1541.9,371.1 1543.5,371.2 1545.1,371.3 1546.7,371.5 1548.3,371.6 1549.9,371.8 1551.5,371.9 1553.1,372.1 1554.7,372.3 1556.3,372.4 1557.9,372.6 1559.5,372.7 1561.1,372.9 1562.7,373 1564.3,373.2 1565.9,373.4 1567.5,373.5 1569.1,373.7 1570.7,373.9 1572.3,374 1573.9,374.2 1575.5,374.4 1577.1,374.5 1578.7,374.7 1580.3,374.9 1581.9,375 1583.5,375.2 1585.1,375.4 1586.7,375.6 1588.2,375.7 1589.8,375.9 1591.4,376.1 1593,376.3 1594.6,376.5 1596.2,376.6 1597.8,376.8 1599.4,377 1601,377.2 1602.6,377.4 1604.2,377.6 1605.8,377.8 1607.4,377.9 1609,378.1 1610.6,378.3 1612.2,378.5 1613.8,378.7 1615.4,378.9 1617,379.1 1618.6,379.3" fill="none" stroke="#e0202f" stroke-width="4.5" stroke-dasharray="3.2 3.1" stroke-linejoin="round" clip-path="url(#cb)"/>
<polyline points="981.2,54.6 982.8,54.6 984.4,54.7 986,54.7 987.6,54.8 989.2,55 990.8,55.1 992.4,55.2 994,55.4 995.6,55.7 997.2,56 998.8,56.4 1000.4,56.8 1002,57.3 1003.6,57.9 1005.2,58.5 1006.8,59.1 1008.4,60 1010,61 1011.6,62.1 1013.1,63.3 1014.7,64.6 1016.3,65.8 1017.9,66.9 1019.5,68.1 1021.1,69.3 1022.7,70.5 1024.3,71.7 1025.9,72.9 1027.5,74.2 1029.1,75.4 1030.7,76.6 1032.3,77.7 1033.9,78.9 1035.5,80 1037.1,81.1 1038.7,82.2 1040.3,83.3 1041.9,84.4 1043.5,85.5 1045.1,86.6 1046.7,87.7 1048.3,88.9 1049.9,90 1051.5,91.1 1053.1,92.2 1054.7,93.3 1056.3,94.4 1057.9,95.6 1059.5,96.8 1061.1,98.1 1062.7,99.4 1064.3,100.8 1065.9,102.3 1067.5,103.9 1069.1,105.5 1070.7,107.2 1072.3,108.9 1073.9,110.6 1075.5,112.4 1077,114.2 1078.6,116.1 1080.2,118.1 1081.8,120.5 1083.4,123.4 1085,127 1086.6,131.3 1088.2,136 1089.8,141.1 1091.4,146.2 1093,151.2 1094.6,155.9 1096.2,160.6 1097.8,165.3 1099.4,170 1101,174.8 1102.6,179.6 1104.2,184.5 1105.8,189.5 1107.4,194.7 1109,200.2 1110.6,205.8 1112.2,211.5 1113.8,217 1115.4,222.2 1117,227.1 1118.6,231.5 1120.2,235.9 1121.8,240.2 1123.4,244.3 1125,248.1 1126.6,251.5 1128.2,254.4 1129.8,256.6 1131.4,258.5 1133,260.1 1134.6,261.6 1136.2,263 1137.8,264.2 1139.4,265.4 1140.9,266.6 1142.5,267.8 1144.1,269.1 1145.7,270.4 1147.3,271.7 1148.9,273 1150.5,274.2 1152.1,275.5 1153.7,276.7 1155.3,277.9 1156.9,279.2 1158.5,280.5 1160.1,281.9 1161.7,283.4 1163.3,285 1164.9,286.6 1166.5,288.5 1168.1,290.5 1169.7,292.6 1171.3,294.9 1172.9,297.3 1174.5,299.9 1176.1,302.4 1177.7,305 1179.3,307.7 1180.9,310.3 1182.5,312.9 1184.1,315.5 1185.7,318 1187.3,320.4 1188.9,322.8 1190.5,325 1192.1,327.3 1193.7,329.6 1195.3,331.9 1196.9,334.2 1198.5,336.5 1200.1,338.7 1201.7,341 1203.3,343.1 1204.8,345.2 1206.4,347.3 1208,349.3 1209.6,351.2 1211.2,353 1212.8,354.7 1214.4,356.4 1216,358 1217.6,359.5 1219.2,361.1 1220.8,362.6 1222.4,364 1224,365.4 1225.6,366.8 1227.2,368.1 1228.8,369.4 1230.4,370.6 1232,371.8 1233.6,372.9 1235.2,374 1236.8,374.9 1238.4,375.9 1240,376.8 1241.6,377.7 1243.2,378.6 1244.8,379.4 1246.4,380.3 1248,381.1 1249.6,381.9 1251.2,382.7 1252.8,383.4 1254.4,384.1 1256,384.8 1257.6,385.5 1259.2,386.1 1260.8,386.7 1262.4,387.3 1264,387.8 1265.6,388.3 1267.2,388.7 1268.7,389.2 1270.3,389.5 1271.9,389.9 1273.5,390.2 1275.1,390.5 1276.7,390.8 1278.3,391.1 1279.9,391.4 1281.5,391.7 1283.1,391.9 1284.7,392.2 1286.3,392.4 1287.9,392.6 1289.5,392.9 1291.1,393.1 1292.7,393.3 1294.3,393.5 1295.9,393.7 1297.5,393.9 1299.1,394.1 1300.7,394.3 1302.3,394.5 1303.9,394.7 1305.5,394.9 1307.1,395.1 1308.7,395.3 1310.3,395.5 1311.9,395.7 1313.5,395.9 1315.1,396.1 1316.7,396.3 1318.3,396.5 1319.9,396.6 1321.5,396.8 1323.1,397 1324.7,397.1 1326.3,397.3 1327.9,397.5 1329.5,397.6 1331.1,397.8 1332.6,398 1334.2,398.1 1335.8,398.3 1337.4,398.5 1339,398.7 1340.6,398.9 1342.2,399.1 1343.8,399.3 1345.4,399.6 1347,399.8 1348.6,400.1 1350.2,400.3 1351.8,400.6 1353.4,400.9 1355,401.3 1356.6,401.6 1358.2,402 1359.8,402.4 1361.4,402.8 1363,403.3 1364.6,403.8 1366.2,404.3 1367.8,404.8 1369.4,405.4 1371,406 1372.6,406.6 1374.2,407.3 1375.8,408 1377.4,408.9 1379,409.9 1380.6,411 1382.2,412.2 1383.8,413.5 1385.4,414.9 1387,416.4 1388.6,417.8 1390.2,419.3 1391.8,420.8 1393.4,422.2 1395,423.7 1396.5,425.1 1398.1,426.7 1399.7,428.4 1401.3,430.2 1402.9,432 1404.5,433.7 1406.1,435.5 1407.7,437.2 1409.3,438.8 1410.9,440.2 1412.5,441.5 1414.1,442.6 1415.7,443.4 1417.3,444.1 1418.9,444.8 1420.5,445.5 1422.1,446.1 1423.7,446.7 1425.3,447.2 1426.9,447.7 1428.5,448.2 1430.1,448.7 1431.7,449.1 1433.3,449.5 1434.9,450 1436.5,450.4 1438.1,450.8 1439.7,451.1 1441.3,451.5 1442.9,451.9 1444.5,452.3 1446.1,452.7 1447.7,453.1 1449.3,453.4 1450.9,453.8 1452.5,454.1 1454.1,454.4 1455.7,454.7 1457.3,455.1 1458.9,455.4 1460.4,455.7 1462,456 1463.6,456.3 1465.2,456.5 1466.8,456.8 1468.4,457.1 1470,457.4 1471.6,457.7 1473.2,458 1474.8,458.3 1476.4,458.6 1478,458.9 1479.6,459.3 1481.2,459.6 1482.8,459.9 1484.4,460.3 1486,460.7 1487.6,461 1489.2,461.4 1490.8,461.8 1492.4,462.1 1494,462.5 1495.6,462.9 1497.2,463.3 1498.8,463.7 1500.4,464.1 1502,464.5 1503.6,464.9 1505.2,465.3 1506.8,465.7 1508.4,466.1 1510,466.5 1511.6,467 1513.2,467.4 1514.8,467.8 1516.4,468.2 1518,468.6 1519.6,469 1521.2,469.5 1522.8,469.9 1524.3,470.3 1525.9,470.7 1527.5,471.1 1529.1,471.5 1530.7,472 1532.3,472.4 1533.9,472.8 1535.5,473.2 1537.1,473.6 1538.7,474.1 1540.3,474.5 1541.9,474.9 1543.5,475.4 1545.1,475.8 1546.7,476.2 1548.3,476.7 1549.9,477.1 1551.5,477.5 1553.1,478 1554.7,478.4 1556.3,478.8 1557.9,479.3 1559.5,479.7 1561.1,480.2 1562.7,480.6 1564.3,481.1 1565.9,481.5 1567.5,481.9 1569.1,482.4 1570.7,482.8 1572.3,483.2 1573.9,483.7 1575.5,484.1 1577.1,484.6 1578.7,485 1580.3,485.5 1581.9,486 1583.5,486.5 1585.1,487 1586.7,487.6 1588.2,488.1 1589.8,488.7 1591.4,489.4 1593,490 1594.6,490.7 1596.2,491.4 1597.8,492 1599.4,492.7 1601,493.5 1602.6,494.2 1604.2,494.9 1605.8,495.7 1607.4,496.5 1609,497.3 1610.6,498.1 1612.2,499 1613.8,499.8 1615.4,500.7 1617,501.6 1618.6,502.5" fill="none" stroke="#1a7a35" stroke-width="4.5" stroke-dasharray="12.7 3.1 6.3 3.1" stroke-linejoin="round" clip-path="url(#cb)"/>
<line x1="947.4" y1="524.8" x2="947.4" y2="540.3" stroke="#4b4d50" stroke-width="3.85"/>
<line x1="947.4" y1="21.9" x2="947.4" y2="6.4" stroke="#4b4d50" stroke-width="3.85"/>
<line x1="981" y1="524.8" x2="981" y2="533.3" stroke="#4b4d50" stroke-width="3.85"/>
<line x1="981" y1="21.9" x2="981" y2="13.4" stroke="#4b4d50" stroke-width="3.85"/>
<line x1="1014.5" y1="524.8" x2="1014.5" y2="533.3" stroke="#4b4d50" stroke-width="3.85"/>
<line x1="1014.5" y1="21.9" x2="1014.5" y2="13.4" stroke="#4b4d50" stroke-width="3.85"/>
<line x1="1048.1" y1="524.8" x2="1048.1" y2="533.3" stroke="#4b4d50" stroke-width="3.85"/>
<line x1="1048.1" y1="21.9" x2="1048.1" y2="13.4" stroke="#4b4d50" stroke-width="3.85"/>
<line x1="1081.7" y1="524.8" x2="1081.7" y2="540.3" stroke="#4b4d50" stroke-width="3.85"/>
<line x1="1081.7" y1="21.9" x2="1081.7" y2="6.4" stroke="#4b4d50" stroke-width="3.85"/>
<line x1="1115.3" y1="524.8" x2="1115.3" y2="533.3" stroke="#4b4d50" stroke-width="3.85"/>
<line x1="1115.3" y1="21.9" x2="1115.3" y2="13.4" stroke="#4b4d50" stroke-width="3.85"/>
<line x1="1148.8" y1="524.8" x2="1148.8" y2="533.3" stroke="#4b4d50" stroke-width="3.85"/>
<line x1="1148.8" y1="21.9" x2="1148.8" y2="13.4" stroke="#4b4d50" stroke-width="3.85"/>
<line x1="1182.4" y1="524.8" x2="1182.4" y2="533.3" stroke="#4b4d50" stroke-width="3.85"/>
<line x1="1182.4" y1="21.9" x2="1182.4" y2="13.4" stroke="#4b4d50" stroke-width="3.85"/>
<line x1="1216" y1="524.8" x2="1216" y2="540.3" stroke="#4b4d50" stroke-width="3.85"/>
<line x1="1216" y1="21.9" x2="1216" y2="6.4" stroke="#4b4d50" stroke-width="3.85"/>
<line x1="1249.6" y1="524.8" x2="1249.6" y2="533.3" stroke="#4b4d50" stroke-width="3.85"/>
<line x1="1249.6" y1="21.9" x2="1249.6" y2="13.4" stroke="#4b4d50" stroke-width="3.85"/>
<line x1="1283.2" y1="524.8" x2="1283.2" y2="533.3" stroke="#4b4d50" stroke-width="3.85"/>
<line x1="1283.2" y1="21.9" x2="1283.2" y2="13.4" stroke="#4b4d50" stroke-width="3.85"/>
<line x1="1316.7" y1="524.8" x2="1316.7" y2="533.3" stroke="#4b4d50" stroke-width="3.85"/>
<line x1="1316.7" y1="21.9" x2="1316.7" y2="13.4" stroke="#4b4d50" stroke-width="3.85"/>
<line x1="1350.3" y1="524.8" x2="1350.3" y2="540.3" stroke="#4b4d50" stroke-width="3.85"/>
<line x1="1350.3" y1="21.9" x2="1350.3" y2="6.4" stroke="#4b4d50" stroke-width="3.85"/>
<line x1="1383.9" y1="524.8" x2="1383.9" y2="533.3" stroke="#4b4d50" stroke-width="3.85"/>
<line x1="1383.9" y1="21.9" x2="1383.9" y2="13.4" stroke="#4b4d50" stroke-width="3.85"/>
<line x1="1417.5" y1="524.8" x2="1417.5" y2="533.3" stroke="#4b4d50" stroke-width="3.85"/>
<line x1="1417.5" y1="21.9" x2="1417.5" y2="13.4" stroke="#4b4d50" stroke-width="3.85"/>
<line x1="1451" y1="524.8" x2="1451" y2="533.3" stroke="#4b4d50" stroke-width="3.85"/>
<line x1="1451" y1="21.9" x2="1451" y2="13.4" stroke="#4b4d50" stroke-width="3.85"/>
<line x1="1484.6" y1="524.8" x2="1484.6" y2="540.3" stroke="#4b4d50" stroke-width="3.85"/>
<line x1="1484.6" y1="21.9" x2="1484.6" y2="6.4" stroke="#4b4d50" stroke-width="3.85"/>
<line x1="1518.2" y1="524.8" x2="1518.2" y2="533.3" stroke="#4b4d50" stroke-width="3.85"/>
<line x1="1518.2" y1="21.9" x2="1518.2" y2="13.4" stroke="#4b4d50" stroke-width="3.85"/>
<line x1="1551.8" y1="524.8" x2="1551.8" y2="533.3" stroke="#4b4d50" stroke-width="3.85"/>
<line x1="1551.8" y1="21.9" x2="1551.8" y2="13.4" stroke="#4b4d50" stroke-width="3.85"/>
<line x1="1585.3" y1="524.8" x2="1585.3" y2="533.3" stroke="#4b4d50" stroke-width="3.85"/>
<line x1="1585.3" y1="21.9" x2="1585.3" y2="13.4" stroke="#4b4d50" stroke-width="3.85"/>
<line x1="1618.9" y1="524.8" x2="1618.9" y2="540.3" stroke="#4b4d50" stroke-width="3.85"/>
<line x1="1618.9" y1="21.9" x2="1618.9" y2="6.4" stroke="#4b4d50" stroke-width="3.85"/>
<line x1="947.4" y1="524.8" x2="931.9" y2="524.8" stroke="#4b4d50" stroke-width="3.85"/>
<line x1="1618.9" y1="524.8" x2="1634.4" y2="524.8" stroke="#4b4d50" stroke-width="3.85"/>
<line x1="947.4" y1="511.4" x2="938.9" y2="511.4" stroke="#4b4d50" stroke-width="3.85"/>
<line x1="1618.9" y1="511.4" x2="1627.4" y2="511.4" stroke="#4b4d50" stroke-width="3.85"/>
<line x1="947.4" y1="498" x2="938.9" y2="498" stroke="#4b4d50" stroke-width="3.85"/>
<line x1="1618.9" y1="498" x2="1627.4" y2="498" stroke="#4b4d50" stroke-width="3.85"/>
<line x1="947.4" y1="484.6" x2="938.9" y2="484.6" stroke="#4b4d50" stroke-width="3.85"/>
<line x1="1618.9" y1="484.6" x2="1627.4" y2="484.6" stroke="#4b4d50" stroke-width="3.85"/>
<line x1="947.4" y1="471.2" x2="938.9" y2="471.2" stroke="#4b4d50" stroke-width="3.85"/>
<line x1="1618.9" y1="471.2" x2="1627.4" y2="471.2" stroke="#4b4d50" stroke-width="3.85"/>
<line x1="947.4" y1="457.7" x2="931.9" y2="457.7" stroke="#4b4d50" stroke-width="3.85"/>
<line x1="1618.9" y1="457.7" x2="1634.4" y2="457.7" stroke="#4b4d50" stroke-width="3.85"/>
<line x1="947.4" y1="444.3" x2="938.9" y2="444.3" stroke="#4b4d50" stroke-width="3.85"/>
<line x1="1618.9" y1="444.3" x2="1627.4" y2="444.3" stroke="#4b4d50" stroke-width="3.85"/>
<line x1="947.4" y1="430.9" x2="938.9" y2="430.9" stroke="#4b4d50" stroke-width="3.85"/>
<line x1="1618.9" y1="430.9" x2="1627.4" y2="430.9" stroke="#4b4d50" stroke-width="3.85"/>
<line x1="947.4" y1="417.5" x2="938.9" y2="417.5" stroke="#4b4d50" stroke-width="3.85"/>
<line x1="1618.9" y1="417.5" x2="1627.4" y2="417.5" stroke="#4b4d50" stroke-width="3.85"/>
<line x1="947.4" y1="404.1" x2="938.9" y2="404.1" stroke="#4b4d50" stroke-width="3.85"/>
<line x1="1618.9" y1="404.1" x2="1627.4" y2="404.1" stroke="#4b4d50" stroke-width="3.85"/>
<line x1="947.4" y1="390.7" x2="931.9" y2="390.7" stroke="#4b4d50" stroke-width="3.85"/>
<line x1="1618.9" y1="390.7" x2="1634.4" y2="390.7" stroke="#4b4d50" stroke-width="3.85"/>
<line x1="947.4" y1="377.3" x2="938.9" y2="377.3" stroke="#4b4d50" stroke-width="3.85"/>
<line x1="1618.9" y1="377.3" x2="1627.4" y2="377.3" stroke="#4b4d50" stroke-width="3.85"/>
<line x1="947.4" y1="363.9" x2="938.9" y2="363.9" stroke="#4b4d50" stroke-width="3.85"/>
<line x1="1618.9" y1="363.9" x2="1627.4" y2="363.9" stroke="#4b4d50" stroke-width="3.85"/>
<line x1="947.4" y1="350.5" x2="938.9" y2="350.5" stroke="#4b4d50" stroke-width="3.85"/>
<line x1="1618.9" y1="350.5" x2="1627.4" y2="350.5" stroke="#4b4d50" stroke-width="3.85"/>
<line x1="947.4" y1="337.1" x2="938.9" y2="337.1" stroke="#4b4d50" stroke-width="3.85"/>
<line x1="1618.9" y1="337.1" x2="1627.4" y2="337.1" stroke="#4b4d50" stroke-width="3.85"/>
<line x1="947.4" y1="323.6" x2="931.9" y2="323.6" stroke="#4b4d50" stroke-width="3.85"/>
<line x1="1618.9" y1="323.6" x2="1634.4" y2="323.6" stroke="#4b4d50" stroke-width="3.85"/>
<line x1="947.4" y1="310.2" x2="938.9" y2="310.2" stroke="#4b4d50" stroke-width="3.85"/>
<line x1="1618.9" y1="310.2" x2="1627.4" y2="310.2" stroke="#4b4d50" stroke-width="3.85"/>
<line x1="947.4" y1="296.8" x2="938.9" y2="296.8" stroke="#4b4d50" stroke-width="3.85"/>
<line x1="1618.9" y1="296.8" x2="1627.4" y2="296.8" stroke="#4b4d50" stroke-width="3.85"/>
<line x1="947.4" y1="283.4" x2="938.9" y2="283.4" stroke="#4b4d50" stroke-width="3.85"/>
<line x1="1618.9" y1="283.4" x2="1627.4" y2="283.4" stroke="#4b4d50" stroke-width="3.85"/>
<line x1="947.4" y1="270" x2="938.9" y2="270" stroke="#4b4d50" stroke-width="3.85"/>
<line x1="1618.9" y1="270" x2="1627.4" y2="270" stroke="#4b4d50" stroke-width="3.85"/>
<line x1="947.4" y1="256.6" x2="931.9" y2="256.6" stroke="#4b4d50" stroke-width="3.85"/>
<line x1="1618.9" y1="256.6" x2="1634.4" y2="256.6" stroke="#4b4d50" stroke-width="3.85"/>
<line x1="947.4" y1="243.2" x2="938.9" y2="243.2" stroke="#4b4d50" stroke-width="3.85"/>
<line x1="1618.9" y1="243.2" x2="1627.4" y2="243.2" stroke="#4b4d50" stroke-width="3.85"/>
<line x1="947.4" y1="229.8" x2="938.9" y2="229.8" stroke="#4b4d50" stroke-width="3.85"/>
<line x1="1618.9" y1="229.8" x2="1627.4" y2="229.8" stroke="#4b4d50" stroke-width="3.85"/>
<line x1="947.4" y1="216.4" x2="938.9" y2="216.4" stroke="#4b4d50" stroke-width="3.85"/>
<line x1="1618.9" y1="216.4" x2="1627.4" y2="216.4" stroke="#4b4d50" stroke-width="3.85"/>
<line x1="947.4" y1="202.9" x2="938.9" y2="202.9" stroke="#4b4d50" stroke-width="3.85"/>
<line x1="1618.9" y1="202.9" x2="1627.4" y2="202.9" stroke="#4b4d50" stroke-width="3.85"/>
<line x1="947.4" y1="189.5" x2="931.9" y2="189.5" stroke="#4b4d50" stroke-width="3.85"/>
<line x1="1618.9" y1="189.5" x2="1634.4" y2="189.5" stroke="#4b4d50" stroke-width="3.85"/>
<line x1="947.4" y1="176.1" x2="938.9" y2="176.1" stroke="#4b4d50" stroke-width="3.85"/>
<line x1="1618.9" y1="176.1" x2="1627.4" y2="176.1" stroke="#4b4d50" stroke-width="3.85"/>
<line x1="947.4" y1="162.7" x2="938.9" y2="162.7" stroke="#4b4d50" stroke-width="3.85"/>
<line x1="1618.9" y1="162.7" x2="1627.4" y2="162.7" stroke="#4b4d50" stroke-width="3.85"/>
<line x1="947.4" y1="149.3" x2="938.9" y2="149.3" stroke="#4b4d50" stroke-width="3.85"/>
<line x1="1618.9" y1="149.3" x2="1627.4" y2="149.3" stroke="#4b4d50" stroke-width="3.85"/>
<line x1="947.4" y1="135.9" x2="938.9" y2="135.9" stroke="#4b4d50" stroke-width="3.85"/>
<line x1="1618.9" y1="135.9" x2="1627.4" y2="135.9" stroke="#4b4d50" stroke-width="3.85"/>
<line x1="947.4" y1="122.5" x2="931.9" y2="122.5" stroke="#4b4d50" stroke-width="3.85"/>
<line x1="1618.9" y1="122.5" x2="1634.4" y2="122.5" stroke="#4b4d50" stroke-width="3.85"/>
<line x1="947.4" y1="109.1" x2="938.9" y2="109.1" stroke="#4b4d50" stroke-width="3.85"/>
<line x1="1618.9" y1="109.1" x2="1627.4" y2="109.1" stroke="#4b4d50" stroke-width="3.85"/>
<line x1="947.4" y1="95.7" x2="938.9" y2="95.7" stroke="#4b4d50" stroke-width="3.85"/>
<line x1="1618.9" y1="95.7" x2="1627.4" y2="95.7" stroke="#4b4d50" stroke-width="3.85"/>
<line x1="947.4" y1="82.2" x2="938.9" y2="82.2" stroke="#4b4d50" stroke-width="3.85"/>
<line x1="1618.9" y1="82.2" x2="1627.4" y2="82.2" stroke="#4b4d50" stroke-width="3.85"/>
<line x1="947.4" y1="68.8" x2="938.9" y2="68.8" stroke="#4b4d50" stroke-width="3.85"/>
<line x1="1618.9" y1="68.8" x2="1627.4" y2="68.8" stroke="#4b4d50" stroke-width="3.85"/>
<line x1="947.4" y1="55.4" x2="931.9" y2="55.4" stroke="#4b4d50" stroke-width="3.85"/>
<line x1="1618.9" y1="55.4" x2="1634.4" y2="55.4" stroke="#4b4d50" stroke-width="3.85"/>
<line x1="947.4" y1="42" x2="938.9" y2="42" stroke="#4b4d50" stroke-width="3.85"/>
<line x1="1618.9" y1="42" x2="1627.4" y2="42" stroke="#4b4d50" stroke-width="3.85"/>
<line x1="947.4" y1="28.6" x2="938.9" y2="28.6" stroke="#4b4d50" stroke-width="3.85"/>
<line x1="1618.9" y1="28.6" x2="1627.4" y2="28.6" stroke="#4b4d50" stroke-width="3.85"/>
<line x1="945.6" y1="21.9" x2="1620.7" y2="21.9" stroke="#4b4d50" stroke-width="3.85"/>
<line x1="945.6" y1="524.8" x2="1620.7" y2="524.8" stroke="#4b4d50" stroke-width="3.85"/>
<line x1="947.4" y1="21.9" x2="947.4" y2="524.8" stroke="#4b4d50" stroke-width="3.85"/>
<line x1="1618.9" y1="21.9" x2="1618.9" y2="524.8" stroke="#4b4d50" stroke-width="3.85"/>
<text transform="translate(947.4 578.7) scale(1.0 1.035)" font-size="29" fill="#4b4d50" text-anchor="middle" font-family="Liberation Sans, Arial, sans-serif">0</text>
<text transform="translate(1081.7 578.7) scale(1.0 1.035)" font-size="29" fill="#4b4d50" text-anchor="middle" font-family="Liberation Sans, Arial, sans-serif">200</text>
<text transform="translate(1216 578.7) scale(1.0 1.035)" font-size="29" fill="#4b4d50" text-anchor="middle" font-family="Liberation Sans, Arial, sans-serif">400</text>
<text transform="translate(1350.3 578.7) scale(1.0 1.035)" font-size="29" fill="#4b4d50" text-anchor="middle" font-family="Liberation Sans, Arial, sans-serif">600</text>
<text transform="translate(1484.6 578.7) scale(1.0 1.035)" font-size="29" fill="#4b4d50" text-anchor="middle" font-family="Liberation Sans, Arial, sans-serif">800</text>
<text transform="translate(1618.9 578.7) scale(1.0 1.035)" font-size="29" fill="#4b4d50" text-anchor="middle" font-family="Liberation Sans, Arial, sans-serif">1000</text>
<text transform="translate(922.6 536.3) scale(1.0 1.035)" font-size="29" fill="#4b4d50" text-anchor="end" font-family="Liberation Sans, Arial, sans-serif">30</text>
<text transform="translate(922.6 469.2) scale(1.0 1.035)" font-size="29" fill="#4b4d50" text-anchor="end" font-family="Liberation Sans, Arial, sans-serif">40</text>
<text transform="translate(922.6 402.2) scale(1.0 1.035)" font-size="29" fill="#4b4d50" text-anchor="end" font-family="Liberation Sans, Arial, sans-serif">50</text>
<text transform="translate(922.6 335.1) scale(1.0 1.035)" font-size="29" fill="#4b4d50" text-anchor="end" font-family="Liberation Sans, Arial, sans-serif">60</text>
<text transform="translate(922.6 268.1) scale(1.0 1.035)" font-size="29" fill="#4b4d50" text-anchor="end" font-family="Liberation Sans, Arial, sans-serif">70</text>
<text transform="translate(922.6 201) scale(1.0 1.035)" font-size="29" fill="#4b4d50" text-anchor="end" font-family="Liberation Sans, Arial, sans-serif">80</text>
<text transform="translate(922.6 134) scale(1.0 1.035)" font-size="29" fill="#4b4d50" text-anchor="end" font-family="Liberation Sans, Arial, sans-serif">90</text>
<text transform="translate(922.6 66.9) scale(1.0 1.035)" font-size="29" fill="#4b4d50" text-anchor="end" font-family="Liberation Sans, Arial, sans-serif">100</text>
<text x="1158.3" y="621.9" font-size="32.5" fill="#4b4d50" font-family="Liberation Sans, Arial, sans-serif">Temperature (<tspan dx="4.2" dy="1.6" font-size="35">&#176;</tspan><tspan dx="1.2" dy="-1.6">C)</tspan></text>
<text transform="translate(860.4 275.3) rotate(-90)" font-size="32.4" fill="#4b4d50" text-anchor="middle" font-family="Liberation Sans, Arial, sans-serif">Weightloss (%)</text>
<text transform="translate(1244.3 686.4)" font-size="38" fill="#231f20" text-anchor="middle" font-weight="bold" font-family="Liberation Sans, Arial, sans-serif">(b)</text>
<rect x="964.1" y="402.9" width="221.1" height="106.3" fill="#fff" stroke="#4b4d50" stroke-width="3.6"/>
<line x1="971.3" y1="422.6" x2="1033.2" y2="422.6" stroke="#1f4ba3" stroke-width="4"/>
<text transform="translate(1045.2 433.6) scale(1.0 1.1)" font-size="26.4" fill="#231f20" font-family="Liberation Sans, Arial, sans-serif">SN01-0.3M</text>
<line x1="971.3" y1="456.2" x2="1033.2" y2="456.2" stroke="#e0202f" stroke-width="4" stroke-dasharray="3.2 3.1"/>
<text transform="translate(1045.2 467.2) scale(1.0 1.1)" font-size="26.4" fill="#231f20" font-family="Liberation Sans, Arial, sans-serif">SA01-0.3M</text>
<line x1="971.3" y1="489.9" x2="1033.2" y2="489.9" stroke="#1a7a35" stroke-width="4" stroke-dasharray="12.7 3.1 6.3 3.1"/>
<text transform="translate(1045.2 500.9) scale(1.0 1.1)" font-size="26.4" fill="#231f20" font-family="Liberation Sans, Arial, sans-serif">SP01-0.3M</text>
</svg>
</body></html>
